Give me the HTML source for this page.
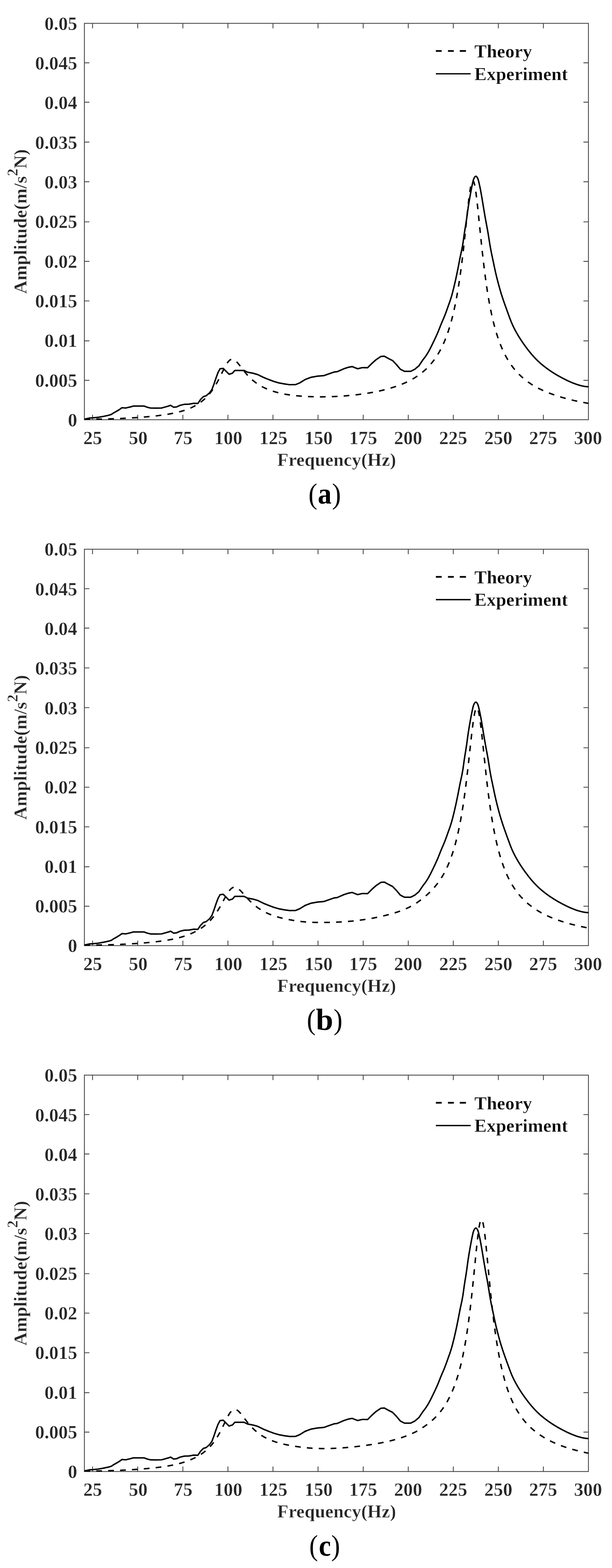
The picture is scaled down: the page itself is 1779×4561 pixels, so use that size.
<!DOCTYPE html>
<html lang="en">
<head>
<meta charset="utf-8">
<title>Frequency response: theory vs experiment</title>
<style>
html,body{margin:0;padding:0;background:#fff;}
svg{display:block;}
text{white-space:pre;}
</style>
</head>
<body>
<svg width="1779" height="4561" viewBox="0 0 1779 4561">
<defs><filter id="soft" x="0" y="0" width="100%" height="100%" filterUnits="userSpaceOnUse" color-interpolation-filters="sRGB"><feGaussianBlur stdDeviation="0.75"/></filter><clipPath id="clip"><rect x="244.1" y="66.7" width="1467.6" height="1155.4"/></clipPath></defs>
<rect width="1779" height="4561" fill="#fff"/>
<g filter="url(#soft)">
<rect x="-5" y="-5" width="1789" height="4571" fill="#fff"/>
<g transform="translate(0,0.0)">
<g fill="none" stroke="#424242" stroke-width="2.4">
<rect x="245.3" y="67.9" width="1465.2" height="1153.0"/>
<path d="M269.0,1220.9 v-14.5 M269.0,67.9 v14.5 M400.3,1220.9 v-14.5 M400.3,67.9 v14.5 M531.6,1220.9 v-14.5 M531.6,67.9 v14.5 M662.6,1220.9 v-14.5 M662.6,67.9 v14.5 M793.5,1220.9 v-14.5 M793.5,67.9 v14.5 M924.5,1220.9 v-14.5 M924.5,67.9 v14.5 M1055.8,1220.9 v-14.5 M1055.8,67.9 v14.5 M1186.8,1220.9 v-14.5 M1186.8,67.9 v14.5 M1317.7,1220.9 v-14.5 M1317.7,67.9 v14.5 M1448.6,1220.9 v-14.5 M1448.6,67.9 v14.5 M1579.6,1220.9 v-14.5 M1579.6,67.9 v14.5 M245.3,1106.3 h14.5 M1710.5,1106.3 h-14.5 M245.3,991.5 h14.5 M1710.5,991.5 h-14.5 M245.3,875.4 h14.5 M1710.5,875.4 h-14.5 M245.3,760.2 h14.5 M1710.5,760.2 h-14.5 M245.3,645.4 h14.5 M1710.5,645.4 h-14.5 M245.3,528.7 h14.5 M1710.5,528.7 h-14.5 M245.3,413.2 h14.5 M1710.5,413.2 h-14.5 M245.3,297.3 h14.5 M1710.5,297.3 h-14.5 M245.3,182.7 h14.5 M1710.5,182.7 h-14.5"/>
</g>
<g clip-path="url(#clip)" fill="none" stroke="#000" stroke-width="4.25" stroke-linejoin="round">
<path d="M245.3,1219.8 L247.4,1219.8 L249.5,1219.8 L251.6,1219.7 L253.7,1219.7 L255.8,1219.7 L257.9,1219.7 L260.0,1219.6 L262.1,1219.6 L264.2,1219.6 L266.3,1219.5 L268.4,1219.5 L270.5,1219.5 L272.5,1219.4 L274.6,1219.4 L276.7,1219.3 L278.8,1219.3 L280.9,1219.3 L283.0,1219.2 L285.1,1219.2 L287.2,1219.1 L289.3,1219.1 L291.4,1219.1 L293.5,1219.0 L295.6,1219.0 L297.7,1218.9 L299.8,1218.9 L301.9,1218.8 L304.0,1218.8 L306.1,1218.7 L308.2,1218.7 L310.3,1218.6 L312.4,1218.6 L314.5,1218.5 L316.6,1218.5 L318.7,1218.4 L320.8,1218.3 L322.9,1218.3 L325.0,1218.2 L327.0,1218.1 L329.1,1218.1 L331.2,1218.0 L333.3,1217.9 L335.4,1217.8 L337.5,1217.8 L339.6,1217.7 L341.7,1217.6 L343.8,1217.5 L345.9,1217.4 L348.0,1217.3 L350.1,1217.3 L352.2,1217.2 L354.3,1217.1 L356.4,1217.0 L358.5,1216.9 L360.6,1216.8 L362.7,1216.7 L364.8,1216.6 L366.9,1216.5 L369.0,1216.4 L371.1,1216.2 L373.2,1216.1 L375.3,1216.0 L377.4,1215.9 L379.5,1215.8 L381.5,1215.7 L383.6,1215.5 L385.7,1215.4 L387.8,1215.3 L389.9,1215.1 L392.0,1215.0 L394.1,1214.9 L396.2,1214.7 L398.3,1214.6 L400.4,1214.5 L402.5,1214.3 L404.6,1214.2 L406.7,1214.0 L408.8,1213.9 L410.9,1213.7 L413.0,1213.5 L415.1,1213.4 L417.2,1213.2 L419.3,1213.0 L421.4,1212.9 L423.5,1212.7 L425.6,1212.5 L427.7,1212.3 L429.8,1212.1 L431.9,1211.9 L434.0,1211.7 L436.0,1211.5 L438.1,1211.3 L440.2,1211.1 L442.3,1210.9 L444.4,1210.7 L446.5,1210.5 L448.6,1210.2 L450.7,1210.0 L452.8,1209.8 L454.9,1209.5 L457.0,1209.3 L459.1,1209.0 L461.2,1208.8 L463.3,1208.5 L465.4,1208.2 L467.5,1208.0 L469.6,1207.7 L471.7,1207.4 L473.8,1207.1 L475.9,1206.8 L478.0,1206.5 L480.1,1206.2 L482.2,1205.8 L484.3,1205.5 L486.4,1205.2 L488.5,1204.8 L490.5,1204.5 L492.6,1204.1 L494.7,1203.7 L496.8,1203.3 L498.9,1202.9 L501.0,1202.5 L503.1,1202.1 L505.2,1201.7 L507.3,1201.2 L509.4,1200.8 L511.5,1200.3 L513.6,1199.8 L515.7,1199.3 L517.8,1198.8 L519.9,1198.3 L522.0,1197.7 L524.1,1197.2 L526.2,1196.6 L528.3,1196.0 L530.4,1195.4 L532.5,1194.7 L534.6,1194.1 L536.7,1193.4 L538.8,1192.7 L540.9,1191.9 L543.0,1191.2 L545.0,1190.4 L547.1,1189.6 L549.2,1188.8 L551.3,1187.9 L553.4,1187.0 L555.5,1186.1 L557.6,1185.1 L559.7,1184.1 L561.8,1183.1 L563.9,1182.0 L566.0,1180.9 L568.1,1179.7 L570.2,1178.5 L572.3,1177.3 L574.4,1176.0 L576.5,1174.7 L578.6,1173.3 L580.7,1171.8 L582.8,1170.3 L584.9,1168.8 L587.0,1167.2 L589.1,1165.5 L591.2,1163.7 L593.3,1161.9 L595.4,1160.0 L597.5,1158.0 L599.5,1156.0 L601.6,1153.8 L603.7,1151.6 L605.8,1149.3 L607.9,1146.8 L610.0,1144.3 L612.1,1141.7 L614.2,1138.9 L616.3,1136.1 L618.4,1133.1 L620.5,1130.0 L622.6,1126.8 L624.7,1123.4 L626.8,1120.0 L628.9,1116.3 L631.0,1112.6 L633.1,1108.8 L635.2,1104.8 L637.3,1100.7 L639.4,1096.6 L641.5,1092.3 L643.6,1088.0 L645.7,1083.7 L647.8,1079.4 L649.9,1075.2 L652.0,1071.0 L654.0,1067.0 L656.1,1063.1 L658.2,1059.6 L660.3,1056.3 L662.4,1053.3 L664.5,1050.8 L666.6,1048.7 L668.7,1047.0 L670.8,1045.8 L672.9,1045.2 L675.0,1045.0 L677.1,1045.2 L679.2,1045.9 L681.3,1047.0 L683.4,1048.4 L685.5,1050.2 L687.6,1052.2 L689.7,1054.4 L691.8,1056.8 L693.9,1059.4 L696.0,1062.0 L698.1,1064.7 L700.2,1067.4 L702.3,1070.2 L704.4,1072.9 L706.5,1075.6 L708.5,1078.3 L710.6,1080.9 L712.7,1083.5 L714.8,1086.0 L716.9,1088.4 L719.0,1090.8 L721.1,1093.1 L723.2,1095.3 L725.3,1097.4 L727.4,1099.5 L729.5,1101.5 L731.6,1103.4 L733.7,1105.3 L735.8,1107.0 L737.9,1108.8 L740.0,1110.4 L742.1,1112.0 L744.2,1113.6 L746.3,1115.1 L748.4,1116.5 L750.5,1117.9 L752.6,1119.3 L754.7,1120.5 L756.8,1121.8 L758.9,1123.0 L760.9,1124.2 L763.0,1125.3 L765.1,1126.4 L767.2,1127.4 L769.3,1128.4 L771.4,1129.4 L773.5,1130.3 L775.6,1131.3 L777.7,1132.1 L779.8,1133.0 L781.9,1133.8 L784.0,1134.6 L786.1,1135.4 L788.2,1136.1 L790.3,1136.9 L792.4,1137.6 L794.5,1138.2 L796.6,1138.9 L798.7,1139.5 L800.8,1140.1 L802.9,1140.7 L805.0,1141.3 L807.1,1141.9 L809.2,1142.4 L811.3,1142.9 L813.4,1143.4 L815.4,1143.9 L817.5,1144.4 L819.6,1144.8 L821.7,1145.3 L823.8,1145.7 L825.9,1146.1 L828.0,1146.5 L830.1,1146.9 L832.2,1147.2 L834.3,1147.6 L836.4,1147.9 L838.5,1148.2 L840.6,1148.6 L842.7,1148.9 L844.8,1149.2 L846.9,1149.4 L849.0,1149.7 L851.1,1150.0 L853.2,1150.2 L855.3,1150.5 L857.4,1150.7 L859.5,1150.9 L861.6,1151.1 L863.7,1151.3 L865.8,1151.5 L867.9,1151.7 L869.9,1151.9 L872.0,1152.1 L874.1,1152.2 L876.2,1152.4 L878.3,1152.5 L880.4,1152.7 L882.5,1152.8 L884.6,1152.9 L886.7,1153.1 L888.8,1153.2 L890.9,1153.3 L893.0,1153.4 L895.1,1153.5 L897.2,1153.6 L899.3,1153.7 L901.4,1153.7 L903.5,1153.8 L905.6,1153.9 L907.7,1153.9 L909.8,1154.0 L911.9,1154.1 L914.0,1154.1 L916.1,1154.1 L918.2,1154.2 L920.3,1154.2 L922.4,1154.2 L924.4,1154.3 L926.5,1154.3 L928.6,1154.3 L930.7,1154.3 L932.8,1154.3 L934.9,1154.3 L937.0,1154.3 L939.1,1154.3 L941.2,1154.2 L943.3,1154.2 L945.4,1154.2 L947.5,1154.2 L949.6,1154.1 L951.7,1154.1 L953.8,1154.0 L955.9,1154.0 L958.0,1153.9 L960.1,1153.9 L962.2,1153.8 L964.3,1153.7 L966.4,1153.7 L968.5,1153.6 L970.6,1153.5 L972.7,1153.4 L974.8,1153.3 L976.9,1153.2 L978.9,1153.1 L981.0,1153.0 L983.1,1152.9 L985.2,1152.8 L987.3,1152.6 L989.4,1152.5 L991.5,1152.4 L993.6,1152.2 L995.7,1152.1 L997.8,1151.9 L999.9,1151.8 L1002.0,1151.6 L1004.1,1151.4 L1006.2,1151.3 L1008.3,1151.1 L1010.4,1150.9 L1012.5,1150.7 L1014.6,1150.5 L1016.7,1150.3 L1018.8,1150.1 L1020.9,1149.9 L1023.0,1149.7 L1025.1,1149.5 L1027.2,1149.2 L1029.3,1149.0 L1031.4,1148.8 L1033.4,1148.5 L1035.5,1148.3 L1037.6,1148.1 L1039.7,1147.8 L1041.8,1147.5 L1043.9,1147.3 L1046.0,1147.0 L1048.1,1146.7 L1050.2,1146.5 L1052.3,1146.2 L1054.4,1145.9 L1056.5,1145.6 L1058.6,1145.3 L1060.7,1145.0 L1062.8,1144.7 L1064.9,1144.4 L1067.0,1144.0 L1069.1,1143.7 L1071.2,1143.4 L1073.3,1143.0 L1075.4,1142.7 L1077.5,1142.3 L1079.6,1141.9 L1081.7,1141.6 L1083.8,1141.2 L1085.9,1140.8 L1087.9,1140.4 L1090.0,1140.0 L1092.1,1139.6 L1094.2,1139.1 L1096.3,1138.7 L1098.4,1138.3 L1100.5,1137.8 L1102.6,1137.4 L1104.7,1136.9 L1106.8,1136.4 L1108.9,1135.9 L1111.0,1135.4 L1113.1,1134.9 L1115.2,1134.4 L1117.3,1133.9 L1119.4,1133.3 L1121.5,1132.8 L1123.6,1132.2 L1125.7,1131.7 L1127.8,1131.1 L1129.9,1130.5 L1132.0,1129.9 L1134.1,1129.3 L1136.2,1128.7 L1138.3,1128.1 L1140.4,1127.4 L1142.4,1126.8 L1144.5,1126.1 L1146.6,1125.4 L1148.7,1124.7 L1150.8,1124.0 L1152.9,1123.3 L1155.0,1122.5 L1157.1,1121.8 L1159.2,1121.0 L1161.3,1120.2 L1163.4,1119.4 L1165.5,1118.6 L1167.6,1117.8 L1169.7,1116.9 L1171.8,1116.1 L1173.9,1115.2 L1176.0,1114.3 L1178.1,1113.3 L1180.2,1112.4 L1182.3,1111.4 L1184.4,1110.4 L1186.5,1109.4 L1188.6,1108.3 L1190.7,1107.3 L1192.8,1106.2 L1194.9,1105.1 L1196.9,1103.9 L1199.0,1102.7 L1201.1,1101.5 L1203.2,1100.3 L1205.3,1099.0 L1207.4,1097.7 L1209.5,1096.3 L1211.6,1095.0 L1213.7,1093.5 L1215.8,1092.1 L1217.9,1090.6 L1220.0,1089.1 L1222.1,1087.5 L1224.2,1085.9 L1226.3,1084.2 L1228.4,1082.5 L1230.5,1080.7 L1232.6,1078.9 L1234.7,1077.1 L1236.8,1075.2 L1238.9,1073.2 L1241.0,1071.1 L1243.1,1069.0 L1245.2,1066.9 L1247.3,1064.7 L1249.3,1062.4 L1251.4,1060.0 L1253.5,1057.5 L1255.6,1055.0 L1257.7,1052.4 L1259.8,1049.7 L1261.9,1046.9 L1264.0,1044.0 L1266.1,1041.0 L1268.2,1037.9 L1270.3,1034.7 L1272.4,1031.3 L1274.5,1027.9 L1276.6,1024.3 L1278.7,1020.5 L1280.8,1016.7 L1282.9,1012.6 L1285.0,1008.4 L1287.1,1004.0 L1289.2,999.5 L1291.3,994.7 L1293.4,989.7 L1295.5,984.5 L1297.6,979.1 L1299.7,973.4 L1301.8,967.5 L1303.8,961.2 L1305.9,954.7 L1308.0,947.8 L1310.1,940.6 L1312.2,933.0 L1314.3,925.1 L1316.4,916.7 L1318.5,907.8 L1320.6,898.5 L1322.7,888.6 L1324.8,878.3 L1326.9,867.3 L1329.0,855.7 L1331.1,843.4 L1333.2,830.5 L1335.3,816.8 L1337.4,802.4 L1339.5,787.2 L1341.6,771.2 L1343.7,754.4 L1345.8,736.8 L1347.9,718.4 L1350.0,699.4 L1352.1,679.9 L1354.2,659.9 L1356.3,639.9 L1358.3,620.0 L1360.4,600.7 L1362.5,582.4 L1364.6,565.7 L1366.7,551.2 L1368.8,539.5 L1370.9,531.0 L1373.0,526.3 L1375.1,525.5 L1377.2,528.8 L1379.3,536.0 L1381.4,546.8 L1383.5,560.6 L1385.6,576.9 L1387.7,595.2 L1389.8,614.8 L1391.9,635.2 L1394.0,655.9 L1396.1,676.7 L1398.2,697.1 L1400.3,717.1 L1402.4,736.4 L1404.5,755.0 L1406.6,772.7 L1408.7,789.7 L1410.8,805.7 L1412.8,821.0 L1414.9,835.4 L1417.0,849.1 L1419.1,862.0 L1421.2,874.3 L1423.3,885.8 L1425.4,896.8 L1427.5,907.1 L1429.6,916.9 L1431.7,926.2 L1433.8,935.0 L1435.9,943.4 L1438.0,951.3 L1440.1,958.9 L1442.2,966.0 L1444.3,972.9 L1446.4,979.4 L1448.5,985.6 L1450.6,991.5 L1452.7,997.2 L1454.8,1002.6 L1456.9,1007.7 L1459.0,1012.7 L1461.1,1017.4 L1463.2,1022.0 L1465.3,1026.4 L1467.3,1030.6 L1469.4,1034.6 L1471.5,1038.5 L1473.6,1042.2 L1475.7,1045.8 L1477.8,1049.3 L1479.9,1052.6 L1482.0,1055.8 L1484.1,1058.9 L1486.2,1061.9 L1488.3,1064.8 L1490.4,1067.6 L1492.5,1070.4 L1494.6,1073.0 L1496.7,1075.5 L1498.8,1078.0 L1500.9,1080.4 L1503.0,1082.7 L1505.1,1085.0 L1507.2,1087.2 L1509.3,1089.3 L1511.4,1091.3 L1513.5,1093.3 L1515.6,1095.3 L1517.7,1097.2 L1519.8,1099.0 L1521.8,1100.8 L1523.9,1102.6 L1526.0,1104.3 L1528.1,1105.9 L1530.2,1107.6 L1532.3,1109.1 L1534.4,1110.7 L1536.5,1112.2 L1538.6,1113.6 L1540.7,1115.1 L1542.8,1116.5 L1544.9,1117.8 L1547.0,1119.2 L1549.1,1120.4 L1551.2,1121.7 L1553.3,1123.0 L1555.4,1124.2 L1557.5,1125.3 L1559.6,1126.5 L1561.7,1127.6 L1563.8,1128.7 L1565.9,1129.8 L1568.0,1130.9 L1570.1,1131.9 L1572.2,1132.9 L1574.3,1133.9 L1576.3,1134.9 L1578.4,1135.9 L1580.5,1136.8 L1582.6,1137.7 L1584.7,1138.6 L1586.8,1139.5 L1588.9,1140.4 L1591.0,1141.2 L1593.1,1142.1 L1595.2,1142.9 L1597.3,1143.7 L1599.4,1144.5 L1601.5,1145.3 L1603.6,1146.0 L1605.7,1146.8 L1607.8,1147.6 L1609.9,1148.3 L1612.0,1149.0 L1614.1,1149.7 L1616.2,1150.4 L1618.3,1151.1 L1620.4,1151.8 L1622.5,1152.5 L1624.6,1153.1 L1626.7,1153.8 L1628.8,1154.4 L1630.8,1155.1 L1632.9,1155.7 L1635.0,1156.3 L1637.1,1156.9 L1639.2,1157.5 L1641.3,1158.1 L1643.4,1158.7 L1645.5,1159.3 L1647.6,1159.8 L1649.7,1160.4 L1651.8,1160.9 L1653.9,1161.5 L1656.0,1162.0 L1658.1,1162.5 L1660.2,1163.0 L1662.3,1163.5 L1664.4,1164.0 L1666.5,1164.5 L1668.6,1165.0 L1670.7,1165.5 L1672.8,1165.9 L1674.9,1166.4 L1677.0,1166.8 L1679.1,1167.3 L1681.2,1167.7 L1683.3,1168.2 L1685.3,1168.6 L1687.4,1169.0 L1689.5,1169.4 L1691.6,1169.8 L1693.7,1170.2 L1695.8,1170.6 L1697.9,1171.0 L1700.0,1171.4 L1702.1,1171.8 L1704.2,1172.1 L1706.3,1172.5 L1708.4,1172.9 L1710.5,1173.2" stroke-dasharray="16.6 18"/>
<path d="M245.3,1219.4 L259.9,1216.0 L269.9,1215.4 L285.8,1213.8 L301.7,1211.0 L315.6,1208.0 L323.6,1205.5 L329.6,1201.5 L339.5,1195.9 L347.5,1191.1 L354.4,1186.0 L365.4,1186.8 L379.3,1183.6 L387.3,1181.2 L403.2,1181.2 L419.1,1181.2 L428.0,1184.6 L437.9,1187.0 L453.8,1187.2 L469.8,1186.8 L479.7,1184.0 L489.7,1181.2 L495.6,1179.0 L499.6,1181.2 L504.6,1184.6 L513.5,1183.6 L523.5,1179.0 L535.4,1176.2 L549.4,1175.6 L563.3,1173.2 L575.2,1173.6 L583.2,1161.7 L591.1,1153.7 L599.1,1151.3 L609.1,1142.8 L615.9,1133.3 L621.9,1117.4 L627.9,1099.5 L633.8,1083.6 L639.8,1072.6 L648.8,1071.6 L657.7,1080.6 L665.7,1088.6 L675.6,1085.6 L682.6,1077.6 L695.5,1077.6 L709.5,1077.6 L719.4,1082.6 L735.3,1085.6 L749.3,1089.6 L765.2,1097.5 L780.0,1103.6 L795.9,1109.5 L809.9,1113.6 L825.8,1116.6 L841.7,1119.0 L859.6,1118.6 L871.5,1113.6 L887.5,1103.7 L903.4,1097.7 L923.3,1094.1 L941.2,1092.7 L955.1,1087.8 L971.0,1082.2 L980.0,1081.2 L999.8,1072.6 L1013.7,1068.1 L1023.7,1066.3 L1029.7,1068.7 L1039.6,1072.6 L1053.5,1069.3 L1068.5,1069.7 L1079.4,1058.7 L1093.3,1046.2 L1107.3,1036.8 L1117.2,1036.2 L1129.2,1042.8 L1141.1,1048.8 L1151.5,1059.5 L1163.9,1074.1 L1175.8,1080.1 L1193.7,1080.1 L1205.7,1074.1 L1217.6,1064.2 L1229.3,1046.7 L1230.6,1045.1 L1231.8,1043.5 L1233.1,1042.0 L1234.3,1040.4 L1235.5,1038.8 L1236.6,1037.2 L1237.7,1035.5 L1238.9,1033.9 L1240.0,1032.2 L1241.0,1030.5 L1242.1,1028.8 L1243.2,1027.1 L1244.2,1025.4 L1245.2,1023.7 L1246.2,1022.0 L1247.1,1020.2 L1248.1,1018.5 L1249.0,1016.7 L1250.0,1015.0 L1250.9,1013.2 L1251.8,1011.4 L1252.7,1009.6 L1253.6,1007.8 L1254.5,1006.0 L1255.4,1004.2 L1256.2,1002.4 L1257.1,1000.6 L1258.0,998.8 L1258.9,997.0 L1259.7,995.2 L1260.6,993.4 L1261.5,991.6 L1262.3,989.8 L1263.2,988.0 L1264.0,986.2 L1264.9,984.4 L1265.7,982.6 L1266.6,980.8 L1267.4,979.0 L1268.2,977.1 L1269.1,975.3 L1269.9,973.5 L1270.7,971.7 L1271.5,969.8 L1272.3,968.0 L1273.1,966.2 L1273.8,964.3 L1274.6,962.5 L1275.3,960.6 L1276.0,958.7 L1276.8,956.9 L1277.5,955.0 L1278.2,953.2 L1279.0,951.3 L1279.7,949.4 L1280.4,947.6 L1281.2,945.7 L1281.9,943.9 L1282.7,942.0 L1283.5,940.2 L1284.2,938.4 L1285.0,936.5 L1285.8,934.7 L1286.6,932.9 L1287.4,931.0 L1288.2,929.2 L1289.0,927.4 L1289.8,925.5 L1290.5,923.7 L1291.3,921.9 L1292.0,920.0 L1292.8,918.1 L1293.5,916.3 L1294.2,914.4 L1294.9,912.6 L1295.6,910.7 L1296.3,908.8 L1297.0,906.9 L1297.7,905.0 L1298.4,903.2 L1299.0,901.3 L1299.7,899.4 L1300.4,897.5 L1301.0,895.6 L1301.7,893.7 L1302.4,891.9 L1303.0,890.0 L1303.7,888.1 L1304.4,886.2 L1305.1,884.3 L1305.7,882.4 L1306.4,880.6 L1307.1,878.7 L1307.7,876.8 L1308.4,874.9 L1309.0,873.0 L1309.6,871.1 L1310.2,869.2 L1310.9,867.3 L1311.4,865.4 L1312.0,863.5 L1312.6,861.6 L1313.1,859.6 L1313.7,857.7 L1314.2,855.8 L1314.7,853.9 L1315.2,851.9 L1315.8,850.0 L1316.2,848.1 L1316.7,846.1 L1317.2,844.2 L1317.7,842.2 L1318.2,840.3 L1318.7,838.4 L1319.1,836.4 L1319.6,834.5 L1320.1,832.5 L1320.5,830.6 L1321.0,828.6 L1321.4,826.7 L1321.9,824.7 L1322.3,822.8 L1322.8,820.8 L1323.2,818.9 L1323.7,816.9 L1324.1,815.0 L1324.6,813.0 L1325.0,811.1 L1325.4,809.1 L1325.8,807.2 L1326.2,805.2 L1326.7,803.3 L1327.1,801.3 L1327.5,799.3 L1327.9,797.4 L1328.3,795.4 L1328.7,793.5 L1329.1,791.5 L1329.5,789.6 L1329.9,787.6 L1330.3,785.6 L1330.7,783.7 L1331.1,781.7 L1331.5,779.8 L1331.9,777.8 L1332.3,775.8 L1332.6,773.9 L1333.0,771.9 L1333.4,769.9 L1333.8,768.0 L1334.1,766.0 L1334.5,764.0 L1334.9,762.1 L1335.3,760.1 L1335.6,758.2 L1336.0,756.2 L1336.4,754.2 L1336.8,752.3 L1337.2,750.3 L1337.6,748.3 L1338.0,746.4 L1338.4,744.4 L1338.8,742.5 L1339.2,740.5 L1339.7,738.6 L1340.1,736.6 L1340.5,734.7 L1340.9,732.7 L1341.3,730.7 L1341.8,728.8 L1342.2,726.8 L1342.6,724.9 L1343.0,722.9 L1343.4,721.0 L1343.7,719.0 L1344.1,717.0 L1344.5,715.1 L1344.8,713.1 L1345.1,711.1 L1345.5,709.2 L1345.8,707.2 L1346.1,705.2 L1346.4,703.2 L1346.6,701.3 L1346.9,699.3 L1347.2,697.3 L1347.5,695.3 L1347.7,693.3 L1348.0,691.3 L1348.3,689.4 L1348.6,687.4 L1348.8,685.4 L1349.1,683.4 L1349.4,681.4 L1349.7,679.5 L1350.0,677.5 L1350.3,675.5 L1350.6,673.5 L1350.9,671.6 L1351.2,669.6 L1351.5,667.6 L1351.8,665.6 L1352.2,663.7 L1352.5,661.7 L1352.8,659.7 L1353.1,657.7 L1353.5,655.8 L1353.8,653.8 L1354.1,651.8 L1354.4,649.8 L1354.7,647.9 L1355.0,645.9 L1355.3,643.9 L1355.6,641.9 L1355.9,639.9 L1356.2,638.0 L1356.5,636.0 L1356.8,634.0 L1357.0,632.0 L1357.3,630.0 L1357.6,628.1 L1357.8,626.1 L1358.1,624.1 L1358.4,622.1 L1358.6,620.1 L1358.9,618.2 L1359.2,616.2 L1359.4,614.2 L1359.7,612.2 L1360.0,610.2 L1360.3,608.3 L1360.6,606.3 L1360.8,604.3 L1361.1,602.3 L1361.4,600.3 L1361.7,598.4 L1362.1,596.4 L1362.4,594.4 L1362.7,592.4 L1363.0,590.5 L1363.3,588.5 L1363.7,586.5 L1364.0,584.5 L1364.3,582.6 L1364.7,580.6 L1365.0,578.6 L1365.3,576.7 L1365.7,574.7 L1366.0,572.7 L1366.4,570.7 L1366.7,568.8 L1367.1,566.8 L1367.4,564.8 L1367.8,562.9 L1368.2,560.9 L1368.5,558.9 L1368.9,556.9 L1369.2,555.0 L1369.6,553.0 L1370.0,551.0 L1370.4,549.1 L1370.8,547.1 L1371.1,545.1 L1371.5,543.1 L1371.9,541.2 L1372.3,539.2 L1372.8,537.2 L1373.2,535.3 L1373.6,533.3 L1374.0,531.4 L1374.5,529.5 L1374.9,527.6 L1375.4,525.7 L1375.9,523.8 L1376.5,522.0 L1377.2,520.2 L1378.0,518.2 L1379.1,516.2 L1380.5,514.3 L1381.9,513.0 L1383.3,512.6 L1384.7,513.2 L1386.1,514.7 L1387.4,516.6 L1388.5,518.6 L1389.3,520.5 L1389.9,522.4 L1390.5,524.2 L1391.0,526.1 L1391.5,528.0 L1392.0,529.9 L1392.4,531.9 L1392.8,533.8 L1393.3,535.8 L1393.7,537.7 L1394.1,539.7 L1394.6,541.6 L1395.0,543.6 L1395.4,545.5 L1395.8,547.5 L1396.2,549.4 L1396.6,551.4 L1396.9,553.4 L1397.3,555.3 L1397.7,557.3 L1398.0,559.3 L1398.4,561.3 L1398.7,563.2 L1399.1,565.2 L1399.4,567.2 L1399.8,569.1 L1400.1,571.1 L1400.5,573.1 L1400.8,575.1 L1401.1,577.0 L1401.5,579.0 L1401.8,581.0 L1402.1,582.9 L1402.4,584.9 L1402.8,586.9 L1403.1,588.9 L1403.4,590.8 L1403.7,592.8 L1404.0,594.8 L1404.4,596.8 L1404.7,598.7 L1405.0,600.7 L1405.3,602.7 L1405.7,604.7 L1406.0,606.6 L1406.3,608.6 L1406.7,610.6 L1407.0,612.5 L1407.3,614.5 L1407.7,616.5 L1408.0,618.5 L1408.3,620.4 L1408.7,622.4 L1409.0,624.4 L1409.3,626.3 L1409.7,628.3 L1410.0,630.3 L1410.4,632.3 L1410.7,634.2 L1411.1,636.2 L1411.4,638.2 L1411.8,640.1 L1412.1,642.1 L1412.5,644.1 L1412.9,646.0 L1413.2,648.0 L1413.6,650.0 L1414.0,651.9 L1414.3,653.9 L1414.7,655.9 L1415.1,657.8 L1415.4,659.8 L1415.8,661.8 L1416.2,663.7 L1416.5,665.7 L1416.9,667.7 L1417.3,669.6 L1417.6,671.6 L1417.9,673.6 L1418.3,675.5 L1418.6,677.5 L1419.0,679.5 L1419.3,681.5 L1419.6,683.4 L1419.9,685.4 L1420.2,687.4 L1420.5,689.4 L1420.8,691.3 L1421.2,693.3 L1421.5,695.3 L1421.8,697.3 L1422.1,699.2 L1422.4,701.2 L1422.7,703.2 L1423.0,705.2 L1423.3,707.1 L1423.6,709.1 L1424.0,711.1 L1424.3,713.1 L1424.6,715.0 L1425.0,717.0 L1425.3,719.0 L1425.7,720.9 L1426.1,722.9 L1426.4,724.9 L1426.8,726.8 L1427.2,728.8 L1427.6,730.8 L1427.9,732.7 L1428.3,734.7 L1428.7,736.6 L1429.1,738.6 L1429.5,740.6 L1429.9,742.5 L1430.4,744.5 L1430.8,746.4 L1431.2,748.4 L1431.6,750.3 L1432.0,752.3 L1432.4,754.3 L1432.8,756.2 L1433.2,758.2 L1433.6,760.1 L1434.1,762.1 L1434.5,764.0 L1434.9,766.0 L1435.3,768.0 L1435.7,769.9 L1436.1,771.9 L1436.5,773.8 L1436.9,775.8 L1437.3,777.7 L1437.8,779.7 L1438.2,781.7 L1438.6,783.6 L1439.0,785.6 L1439.5,787.5 L1439.9,789.5 L1440.3,791.4 L1440.8,793.4 L1441.2,795.3 L1441.7,797.3 L1442.2,799.2 L1442.6,801.2 L1443.1,803.1 L1443.6,805.0 L1444.0,807.0 L1444.5,808.9 L1445.0,810.9 L1445.5,812.8 L1446.0,814.7 L1446.5,816.7 L1447.0,818.6 L1447.5,820.6 L1448.0,822.5 L1448.5,824.4 L1449.0,826.4 L1449.5,828.3 L1450.0,830.2 L1450.6,832.1 L1451.1,834.1 L1451.6,836.0 L1452.2,837.9 L1452.7,839.8 L1453.3,841.8 L1453.8,843.7 L1454.4,845.6 L1455.0,847.5 L1455.5,849.4 L1456.1,851.4 L1456.7,853.3 L1457.3,855.2 L1457.9,857.1 L1458.5,859.0 L1459.1,860.9 L1459.7,862.8 L1460.3,864.7 L1460.9,866.6 L1461.6,868.5 L1462.2,870.4 L1462.8,872.3 L1463.5,874.2 L1464.1,876.1 L1464.8,878.0 L1465.4,879.9 L1466.1,881.8 L1466.8,883.6 L1467.4,885.5 L1468.1,887.4 L1468.8,889.3 L1469.5,891.2 L1470.1,893.1 L1470.8,894.9 L1471.5,896.8 L1472.2,898.7 L1472.8,900.6 L1473.5,902.5 L1474.2,904.3 L1474.9,906.2 L1475.6,908.1 L1476.3,910.0 L1476.9,911.9 L1477.6,913.7 L1478.3,915.6 L1479.0,917.5 L1479.7,919.4 L1480.4,921.3 L1481.1,923.1 L1481.7,925.0 L1482.4,926.9 L1483.2,928.8 L1483.9,930.6 L1484.6,932.5 L1485.3,934.3 L1486.1,936.2 L1486.8,938.0 L1487.6,939.9 L1488.4,941.7 L1489.2,943.5 L1490.0,945.4 L1490.9,947.2 L1491.7,949.0 L1492.6,950.8 L1493.4,952.6 L1494.3,954.4 L1495.2,956.1 L1496.2,957.9 L1497.1,959.7 L1498.0,961.5 L1499.0,963.2 L1499.9,965.0 L1500.9,966.7 L1501.9,968.5 L1502.9,970.2 L1503.9,971.9 L1504.9,973.7 L1505.9,975.4 L1506.9,977.1 L1508.0,978.8 L1509.0,980.5 L1510.1,982.2 L1511.2,983.9 L1512.2,985.6 L1513.3,987.3 L1514.4,988.9 L1515.5,990.6 L1516.6,992.3 L1517.7,993.9 L1518.8,995.6 L1520.0,997.2 L1521.1,998.9 L1522.3,1000.5 L1523.4,1002.2 L1524.6,1003.8 L1525.7,1005.4 L1526.9,1007.0 L1528.1,1008.6 L1529.3,1010.2 L1530.5,1011.8 L1531.7,1013.4 L1532.9,1015.0 L1534.1,1016.6 L1535.3,1018.2 L1536.6,1019.8 L1537.8,1021.3 L1539.1,1022.9 L1540.3,1024.5 L1541.6,1026.0 L1542.9,1027.6 L1544.1,1029.1 L1545.4,1030.6 L1546.7,1032.1 L1548.1,1033.6 L1549.4,1035.1 L1550.7,1036.6 L1552.1,1038.1 L1553.4,1039.6 L1554.8,1041.0 L1556.1,1042.5 L1557.5,1043.9 L1558.9,1045.3 L1560.3,1046.8 L1561.8,1048.2 L1563.2,1049.6 L1564.6,1050.9 L1566.1,1052.3 L1567.6,1053.7 L1569.0,1055.0 L1570.5,1056.3 L1572.0,1057.6 L1573.6,1058.9 L1575.1,1060.2 L1576.6,1061.5 L1578.2,1062.8 L1579.7,1064.0 L1581.3,1065.3 L1582.9,1066.5 L1584.4,1067.7 L1586.0,1068.9 L1587.6,1070.1 L1589.2,1071.3 L1590.9,1072.5 L1592.5,1073.7 L1594.1,1074.8 L1595.7,1076.0 L1597.4,1077.1 L1599.0,1078.3 L1600.7,1079.4 L1602.3,1080.5 L1604.0,1081.6 L1605.7,1082.7 L1607.4,1083.8 L1609.0,1084.9 L1610.7,1085.9 L1612.4,1087.0 L1614.1,1088.0 L1615.8,1089.0 L1617.6,1090.1 L1619.3,1091.1 L1621.0,1092.1 L1622.8,1093.1 L1624.5,1094.1 L1626.2,1095.0 L1628.0,1096.0 L1629.8,1096.9 L1631.5,1097.9 L1633.3,1098.8 L1635.0,1099.8 L1636.8,1100.7 L1638.6,1101.6 L1640.4,1102.5 L1642.2,1103.4 L1643.9,1104.3 L1645.7,1105.2 L1647.5,1106.1 L1649.3,1107.0 L1651.1,1107.8 L1653.0,1108.7 L1654.8,1109.5 L1656.6,1110.3 L1658.4,1111.1 L1660.3,1111.9 L1662.1,1112.7 L1664.0,1113.4 L1665.8,1114.2 L1667.7,1114.9 L1669.5,1115.6 L1671.4,1116.3 L1673.3,1117.0 L1675.2,1117.7 L1677.0,1118.3 L1678.9,1118.9 L1680.8,1119.5 L1682.7,1120.1 L1684.5,1120.6 L1686.4,1121.1 L1688.2,1121.6 L1690.1,1122.1 L1691.8,1122.5 L1693.6,1122.8 L1695.2,1123.2 L1696.8,1123.5 L1698.4,1123.8 L1699.8,1124.0 L1701.1,1124.2 L1702.4,1124.4 L1703.5,1124.5 L1710.8,1125.1"/>
</g>
<g font-family='"Liberation Serif", "DejaVu Serif", serif' font-weight="bold" font-size="54.5" fill="#262626" stroke="#fff" stroke-width="0.7" stroke-linejoin="round">
<g text-anchor="end">
<text x="224.6" y="1239.8">0</text>
<text x="224.6" y="1124.5">0.005</text>
<text x="224.6" y="1009.2">0.01</text>
<text x="224.6" y="893.9">0.015</text>
<text x="224.6" y="778.6">0.02</text>
<text x="224.6" y="663.3">0.025</text>
<text x="224.6" y="548.0">0.03</text>
<text x="224.6" y="432.7">0.035</text>
<text x="224.6" y="317.4">0.04</text>
<text x="224.6" y="202.1">0.045</text>
<text x="224.6" y="86.8">0.05</text>
</g><g text-anchor="middle">
<text x="269.6" y="1292.0">25</text>
<text x="401.7" y="1292.0">50</text>
<text x="532.2" y="1292.0">75</text>
<text x="663.5" y="1292.0">100</text>
<text x="794.6" y="1292.0">125</text>
<text x="926.1" y="1292.0">150</text>
<text x="1055.6" y="1292.0">175</text>
<text x="1186.3" y="1292.0">200</text>
<text x="1317.3" y="1292.0">225</text>
<text x="1448.5" y="1292.0">250</text>
<text x="1578.9" y="1292.0">275</text>
<text x="1709.3" y="1292.0">300</text>
</g>
<g font-size="53.5">
<text x="978.6" y="1355" text-anchor="middle" textLength="345.5" lengthAdjust="spacing">Frequency(Hz)</text>
<text transform="translate(76.9,644.3) rotate(-90)" text-anchor="middle" textLength="421" lengthAdjust="spacing">Amplitude(m/s<tspan font-size="44" dy="-26">2</tspan><tspan dy="26">N)</tspan></text>
</g>
<g text-anchor="start" fill="#000" font-size="53.5">
<text x="1379" y="167.3" textLength="167.5" lengthAdjust="spacing">Theory</text>
<text x="1379" y="232.8" textLength="271.5" lengthAdjust="spacing">Experiment</text>
</g>
</g>
<g fill="none" stroke="#000">
<path stroke-width="4.9" d="M1267,148.3 h16.9 M1302.2,148.3 h17 M1336.5,148.3 h18"/>
<path stroke-width="3.9" d="M1267,214.6 h101.2"/>
</g>
<g font-family='"Liberation Serif", "DejaVu Serif", serif' fill="#000" font-size="100"><text transform="translate(896.78,1465.42) scale(0.7665,0.8512)">(</text><text transform="translate(923.68,1464.99) scale(0.8035,0.8622)" font-weight="bold">a</text><text transform="translate(965.37,1465.42) scale(0.7743,0.8512)">)</text></g>
</g>
<g transform="translate(0,1529.7)">
<g fill="none" stroke="#424242" stroke-width="2.4">
<rect x="245.3" y="67.9" width="1465.2" height="1153.0"/>
<path d="M269.0,1220.9 v-14.5 M269.0,67.9 v14.5 M400.3,1220.9 v-14.5 M400.3,67.9 v14.5 M531.6,1220.9 v-14.5 M531.6,67.9 v14.5 M662.6,1220.9 v-14.5 M662.6,67.9 v14.5 M793.5,1220.9 v-14.5 M793.5,67.9 v14.5 M924.5,1220.9 v-14.5 M924.5,67.9 v14.5 M1055.8,1220.9 v-14.5 M1055.8,67.9 v14.5 M1186.8,1220.9 v-14.5 M1186.8,67.9 v14.5 M1317.7,1220.9 v-14.5 M1317.7,67.9 v14.5 M1448.6,1220.9 v-14.5 M1448.6,67.9 v14.5 M1579.6,1220.9 v-14.5 M1579.6,67.9 v14.5 M245.3,1106.3 h14.5 M1710.5,1106.3 h-14.5 M245.3,991.5 h14.5 M1710.5,991.5 h-14.5 M245.3,875.4 h14.5 M1710.5,875.4 h-14.5 M245.3,760.2 h14.5 M1710.5,760.2 h-14.5 M245.3,645.4 h14.5 M1710.5,645.4 h-14.5 M245.3,528.7 h14.5 M1710.5,528.7 h-14.5 M245.3,413.2 h14.5 M1710.5,413.2 h-14.5 M245.3,297.3 h14.5 M1710.5,297.3 h-14.5 M245.3,182.7 h14.5 M1710.5,182.7 h-14.5"/>
</g>
<g clip-path="url(#clip)" fill="none" stroke="#000" stroke-width="4.25" stroke-linejoin="round">
<path d="M245.3,1219.8 L247.4,1219.8 L249.5,1219.8 L251.6,1219.7 L253.7,1219.7 L255.8,1219.7 L257.9,1219.7 L260.0,1219.6 L262.1,1219.6 L264.2,1219.6 L266.3,1219.5 L268.4,1219.5 L270.5,1219.5 L272.5,1219.4 L274.6,1219.4 L276.7,1219.3 L278.8,1219.3 L280.9,1219.3 L283.0,1219.2 L285.1,1219.2 L287.2,1219.1 L289.3,1219.1 L291.4,1219.1 L293.5,1219.0 L295.6,1219.0 L297.7,1218.9 L299.8,1218.9 L301.9,1218.8 L304.0,1218.8 L306.1,1218.7 L308.2,1218.7 L310.3,1218.6 L312.4,1218.6 L314.5,1218.5 L316.6,1218.5 L318.7,1218.4 L320.8,1218.3 L322.9,1218.3 L325.0,1218.2 L327.0,1218.1 L329.1,1218.1 L331.2,1218.0 L333.3,1217.9 L335.4,1217.8 L337.5,1217.8 L339.6,1217.7 L341.7,1217.6 L343.8,1217.5 L345.9,1217.4 L348.0,1217.3 L350.1,1217.3 L352.2,1217.2 L354.3,1217.1 L356.4,1217.0 L358.5,1216.9 L360.6,1216.8 L362.7,1216.7 L364.8,1216.6 L366.9,1216.5 L369.0,1216.3 L371.1,1216.2 L373.2,1216.1 L375.3,1216.0 L377.4,1215.9 L379.5,1215.8 L381.5,1215.6 L383.6,1215.5 L385.7,1215.4 L387.8,1215.3 L389.9,1215.1 L392.0,1215.0 L394.1,1214.9 L396.2,1214.7 L398.3,1214.6 L400.4,1214.4 L402.5,1214.3 L404.6,1214.2 L406.7,1214.0 L408.8,1213.8 L410.9,1213.7 L413.0,1213.5 L415.1,1213.4 L417.2,1213.2 L419.3,1213.0 L421.4,1212.8 L423.5,1212.7 L425.6,1212.5 L427.7,1212.3 L429.8,1212.1 L431.9,1211.9 L434.0,1211.7 L436.0,1211.5 L438.1,1211.3 L440.2,1211.1 L442.3,1210.9 L444.4,1210.7 L446.5,1210.4 L448.6,1210.2 L450.7,1210.0 L452.8,1209.7 L454.9,1209.5 L457.0,1209.2 L459.1,1209.0 L461.2,1208.7 L463.3,1208.5 L465.4,1208.2 L467.5,1207.9 L469.6,1207.6 L471.7,1207.3 L473.8,1207.0 L475.9,1206.7 L478.0,1206.4 L480.1,1206.1 L482.2,1205.7 L484.3,1205.4 L486.4,1205.1 L488.5,1204.7 L490.5,1204.3 L492.6,1204.0 L494.7,1203.6 L496.8,1203.2 L498.9,1202.8 L501.0,1202.4 L503.1,1201.9 L505.2,1201.5 L507.3,1201.1 L509.4,1200.6 L511.5,1200.1 L513.6,1199.6 L515.7,1199.1 L517.8,1198.6 L519.9,1198.1 L522.0,1197.5 L524.1,1196.9 L526.2,1196.3 L528.3,1195.7 L530.4,1195.1 L532.5,1194.5 L534.6,1193.8 L536.7,1193.1 L538.8,1192.4 L540.9,1191.7 L543.0,1191.0 L545.0,1190.2 L547.1,1189.4 L549.2,1188.6 L551.3,1187.7 L553.4,1186.9 L555.5,1186.0 L557.6,1185.1 L559.7,1184.1 L561.8,1183.1 L563.9,1182.1 L566.0,1181.1 L568.1,1180.0 L570.2,1178.9 L572.3,1177.8 L574.4,1176.6 L576.5,1175.4 L578.6,1174.1 L580.7,1172.8 L582.8,1171.5 L584.9,1170.1 L587.0,1168.7 L589.1,1167.2 L591.2,1165.7 L593.3,1164.1 L595.4,1162.5 L597.5,1160.7 L599.5,1159.0 L601.6,1157.1 L603.7,1155.2 L605.8,1153.2 L607.9,1151.2 L610.0,1149.0 L612.1,1146.8 L614.2,1144.5 L616.3,1142.0 L618.4,1139.5 L620.5,1136.9 L622.6,1134.2 L624.7,1131.3 L626.8,1128.4 L628.9,1125.3 L631.0,1122.1 L633.1,1118.8 L635.2,1115.4 L637.3,1111.9 L639.4,1108.4 L641.5,1104.7 L643.6,1100.9 L645.7,1097.1 L647.8,1093.2 L649.9,1089.3 L652.0,1085.4 L654.0,1081.6 L656.1,1077.8 L658.2,1074.1 L660.3,1070.6 L662.4,1067.2 L664.5,1064.1 L666.6,1061.2 L668.7,1058.6 L670.8,1056.4 L672.9,1054.5 L675.0,1053.0 L677.1,1051.9 L679.2,1051.3 L681.3,1051.0 L683.4,1051.0 L685.5,1051.5 L687.6,1052.3 L689.7,1053.4 L691.8,1054.7 L693.9,1056.3 L696.0,1058.1 L698.1,1060.1 L700.2,1062.2 L702.3,1064.4 L704.4,1066.7 L706.5,1069.0 L708.5,1071.4 L710.6,1073.8 L712.7,1076.2 L714.8,1078.5 L716.9,1080.9 L719.0,1083.2 L721.1,1085.5 L723.2,1087.7 L725.3,1089.9 L727.4,1092.0 L729.5,1094.0 L731.6,1096.0 L733.7,1098.0 L735.8,1099.9 L737.9,1101.7 L740.0,1103.5 L742.1,1105.2 L744.2,1106.8 L746.3,1108.4 L748.4,1110.0 L750.5,1111.5 L752.6,1112.9 L754.7,1114.3 L756.8,1115.7 L758.9,1117.0 L760.9,1118.2 L763.0,1119.5 L765.1,1120.6 L767.2,1121.8 L769.3,1122.9 L771.4,1123.9 L773.5,1125.0 L775.6,1126.0 L777.7,1126.9 L779.8,1127.9 L781.9,1128.8 L784.0,1129.6 L786.1,1130.5 L788.2,1131.3 L790.3,1132.1 L792.4,1132.9 L794.5,1133.6 L796.6,1134.3 L798.7,1135.0 L800.8,1135.7 L802.9,1136.3 L805.0,1137.0 L807.1,1137.6 L809.2,1138.2 L811.3,1138.8 L813.4,1139.3 L815.4,1139.9 L817.5,1140.4 L819.6,1140.9 L821.7,1141.4 L823.8,1141.9 L825.9,1142.4 L828.0,1142.9 L830.1,1143.3 L832.2,1143.7 L834.3,1144.2 L836.4,1144.6 L838.5,1145.0 L840.6,1145.4 L842.7,1145.8 L844.8,1146.2 L846.9,1146.5 L849.0,1146.9 L851.1,1147.3 L853.2,1147.6 L855.3,1148.0 L857.4,1148.3 L859.5,1148.6 L861.6,1148.9 L863.7,1149.2 L865.8,1149.5 L867.9,1149.8 L869.9,1150.1 L872.0,1150.4 L874.1,1150.6 L876.2,1150.9 L878.3,1151.1 L880.4,1151.3 L882.5,1151.5 L884.6,1151.7 L886.7,1151.9 L888.8,1152.1 L890.9,1152.2 L893.0,1152.4 L895.1,1152.5 L897.2,1152.6 L899.3,1152.8 L901.4,1152.9 L903.5,1153.0 L905.6,1153.0 L907.7,1153.1 L909.8,1153.2 L911.9,1153.3 L914.0,1153.3 L916.1,1153.4 L918.2,1153.4 L920.3,1153.4 L922.4,1153.5 L924.4,1153.5 L926.5,1153.5 L928.6,1153.5 L930.7,1153.5 L932.8,1153.5 L934.9,1153.5 L937.0,1153.5 L939.1,1153.5 L941.2,1153.5 L943.3,1153.5 L945.4,1153.5 L947.5,1153.4 L949.6,1153.4 L951.7,1153.4 L953.8,1153.3 L955.9,1153.3 L958.0,1153.3 L960.1,1153.2 L962.2,1153.2 L964.3,1153.1 L966.4,1153.1 L968.5,1153.0 L970.6,1152.9 L972.7,1152.9 L974.8,1152.8 L976.9,1152.7 L978.9,1152.6 L981.0,1152.5 L983.1,1152.4 L985.2,1152.3 L987.3,1152.2 L989.4,1152.1 L991.5,1152.0 L993.6,1151.9 L995.7,1151.8 L997.8,1151.6 L999.9,1151.5 L1002.0,1151.4 L1004.1,1151.2 L1006.2,1151.1 L1008.3,1150.9 L1010.4,1150.7 L1012.5,1150.5 L1014.6,1150.4 L1016.7,1150.2 L1018.8,1150.0 L1020.9,1149.8 L1023.0,1149.6 L1025.1,1149.4 L1027.2,1149.1 L1029.3,1148.9 L1031.4,1148.7 L1033.4,1148.4 L1035.5,1148.2 L1037.6,1148.0 L1039.7,1147.7 L1041.8,1147.4 L1043.9,1147.2 L1046.0,1146.9 L1048.1,1146.6 L1050.2,1146.3 L1052.3,1146.0 L1054.4,1145.8 L1056.5,1145.5 L1058.6,1145.1 L1060.7,1144.8 L1062.8,1144.5 L1064.9,1144.2 L1067.0,1143.8 L1069.1,1143.5 L1071.2,1143.2 L1073.3,1142.8 L1075.4,1142.5 L1077.5,1142.1 L1079.6,1141.7 L1081.7,1141.3 L1083.8,1140.9 L1085.9,1140.6 L1087.9,1140.2 L1090.0,1139.7 L1092.1,1139.3 L1094.2,1138.9 L1096.3,1138.5 L1098.4,1138.0 L1100.5,1137.6 L1102.6,1137.1 L1104.7,1136.7 L1106.8,1136.2 L1108.9,1135.7 L1111.0,1135.3 L1113.1,1134.8 L1115.2,1134.3 L1117.3,1133.8 L1119.4,1133.3 L1121.5,1132.8 L1123.6,1132.2 L1125.7,1131.7 L1127.8,1131.2 L1129.9,1130.6 L1132.0,1130.0 L1134.1,1129.5 L1136.2,1128.9 L1138.3,1128.3 L1140.4,1127.7 L1142.4,1127.1 L1144.5,1126.5 L1146.6,1125.9 L1148.7,1125.2 L1150.8,1124.6 L1152.9,1123.9 L1155.0,1123.2 L1157.1,1122.5 L1159.2,1121.8 L1161.3,1121.1 L1163.4,1120.3 L1165.5,1119.6 L1167.6,1118.8 L1169.7,1118.0 L1171.8,1117.1 L1173.9,1116.3 L1176.0,1115.4 L1178.1,1114.5 L1180.2,1113.6 L1182.3,1112.6 L1184.4,1111.7 L1186.5,1110.7 L1188.6,1109.6 L1190.7,1108.6 L1192.8,1107.5 L1194.9,1106.4 L1196.9,1105.2 L1199.0,1104.0 L1201.1,1102.8 L1203.2,1101.6 L1205.3,1100.3 L1207.4,1099.0 L1209.5,1097.6 L1211.6,1096.2 L1213.7,1094.8 L1215.8,1093.4 L1217.9,1091.9 L1220.0,1090.4 L1222.1,1088.8 L1224.2,1087.3 L1226.3,1085.6 L1228.4,1084.0 L1230.5,1082.3 L1232.6,1080.6 L1234.7,1078.9 L1236.8,1077.1 L1238.9,1075.2 L1241.0,1073.4 L1243.1,1071.5 L1245.2,1069.6 L1247.3,1067.6 L1249.3,1065.5 L1251.4,1063.5 L1253.5,1061.3 L1255.6,1059.1 L1257.7,1056.9 L1259.8,1054.6 L1261.9,1052.2 L1264.0,1049.8 L1266.1,1047.3 L1268.2,1044.7 L1270.3,1042.0 L1272.4,1039.2 L1274.5,1036.4 L1276.6,1033.5 L1278.7,1030.4 L1280.8,1027.3 L1282.9,1024.0 L1285.0,1020.6 L1287.1,1017.1 L1289.2,1013.5 L1291.3,1009.7 L1293.4,1005.7 L1295.5,1001.6 L1297.6,997.4 L1299.7,992.9 L1301.8,988.3 L1303.8,983.4 L1305.9,978.3 L1308.0,973.1 L1310.1,967.5 L1312.2,961.7 L1314.3,955.6 L1316.4,949.3 L1318.5,942.6 L1320.6,935.6 L1322.7,928.2 L1324.8,920.4 L1326.9,912.2 L1329.0,903.6 L1331.1,894.5 L1333.2,884.9 L1335.3,874.8 L1337.4,864.1 L1339.5,852.9 L1341.6,841.0 L1343.7,828.5 L1345.8,815.2 L1347.9,801.3 L1350.0,786.6 L1352.1,771.2 L1354.2,755.1 L1356.3,738.2 L1358.3,720.6 L1360.4,702.4 L1362.5,683.7 L1364.6,664.6 L1366.7,645.4 L1368.8,626.3 L1370.9,607.6 L1373.0,589.9 L1375.1,573.4 L1377.2,558.8 L1379.3,546.7 L1381.4,537.4 L1383.5,531.4 L1385.6,529.0 L1387.7,530.4 L1389.8,535.5 L1391.9,544.0 L1394.0,555.7 L1396.1,570.1 L1398.2,586.5 L1400.3,604.6 L1402.4,623.7 L1404.5,643.5 L1406.6,663.5 L1408.7,683.4 L1410.8,703.1 L1412.8,722.2 L1414.9,740.7 L1417.0,758.6 L1419.1,775.6 L1421.2,791.9 L1423.3,807.4 L1425.4,822.2 L1427.5,836.2 L1429.6,849.4 L1431.7,862.0 L1433.8,873.9 L1435.9,885.2 L1438.0,895.9 L1440.1,906.1 L1442.2,915.7 L1444.3,924.8 L1446.4,933.5 L1448.5,941.7 L1450.6,949.5 L1452.7,957.0 L1454.8,964.1 L1456.9,970.8 L1459.0,977.3 L1461.1,983.4 L1463.2,989.3 L1465.3,994.9 L1467.3,1000.3 L1469.4,1005.5 L1471.5,1010.4 L1473.6,1015.1 L1475.7,1019.7 L1477.8,1024.0 L1479.9,1028.2 L1482.0,1032.3 L1484.1,1036.1 L1486.2,1039.9 L1488.3,1043.4 L1490.4,1046.9 L1492.5,1050.2 L1494.6,1053.5 L1496.7,1056.6 L1498.8,1059.6 L1500.9,1062.5 L1503.0,1065.3 L1505.1,1068.0 L1507.2,1070.6 L1509.3,1073.2 L1511.4,1075.7 L1513.5,1078.1 L1515.6,1080.4 L1517.7,1082.6 L1519.8,1084.8 L1521.8,1087.0 L1523.9,1089.0 L1526.0,1091.0 L1528.1,1093.0 L1530.2,1094.9 L1532.3,1096.8 L1534.4,1098.6 L1536.5,1100.3 L1538.6,1102.0 L1540.7,1103.7 L1542.8,1105.3 L1544.9,1106.9 L1547.0,1108.5 L1549.1,1110.0 L1551.2,1111.5 L1553.3,1112.9 L1555.4,1114.3 L1557.5,1115.7 L1559.6,1117.1 L1561.7,1118.4 L1563.8,1119.7 L1565.9,1120.9 L1568.0,1122.2 L1570.1,1123.4 L1572.2,1124.6 L1574.3,1125.7 L1576.3,1126.9 L1578.4,1128.0 L1580.5,1129.1 L1582.6,1130.1 L1584.7,1131.2 L1586.8,1132.2 L1588.9,1133.2 L1591.0,1134.2 L1593.1,1135.1 L1595.2,1136.1 L1597.3,1137.0 L1599.4,1137.9 L1601.5,1138.8 L1603.6,1139.7 L1605.7,1140.5 L1607.8,1141.4 L1609.9,1142.2 L1612.0,1143.0 L1614.1,1143.8 L1616.2,1144.6 L1618.3,1145.4 L1620.4,1146.1 L1622.5,1146.9 L1624.6,1147.6 L1626.7,1148.3 L1628.8,1149.0 L1630.8,1149.7 L1632.9,1150.4 L1635.0,1151.1 L1637.1,1151.8 L1639.2,1152.4 L1641.3,1153.0 L1643.4,1153.7 L1645.5,1154.3 L1647.6,1154.9 L1649.7,1155.5 L1651.8,1156.1 L1653.9,1156.7 L1656.0,1157.3 L1658.1,1157.9 L1660.2,1158.4 L1662.3,1159.0 L1664.4,1159.5 L1666.5,1160.0 L1668.6,1160.6 L1670.7,1161.1 L1672.8,1161.6 L1674.9,1162.1 L1677.0,1162.6 L1679.1,1163.1 L1681.2,1163.6 L1683.3,1164.1 L1685.3,1164.5 L1687.4,1165.0 L1689.5,1165.5 L1691.6,1165.9 L1693.7,1166.3 L1695.8,1166.8 L1697.9,1167.2 L1700.0,1167.6 L1702.1,1168.1 L1704.2,1168.5 L1706.3,1168.9 L1708.4,1169.3 L1710.5,1169.7" stroke-dasharray="16.6 18"/>
<path d="M245.3,1219.4 L259.9,1216.0 L269.9,1215.4 L285.8,1213.8 L301.7,1211.0 L315.6,1208.0 L323.6,1205.5 L329.6,1201.5 L339.5,1195.9 L347.5,1191.1 L354.4,1186.0 L365.4,1186.8 L379.3,1183.6 L387.3,1181.2 L403.2,1181.2 L419.1,1181.2 L428.0,1184.6 L437.9,1187.0 L453.8,1187.2 L469.8,1186.8 L479.7,1184.0 L489.7,1181.2 L495.6,1179.0 L499.6,1181.2 L504.6,1184.6 L513.5,1183.6 L523.5,1179.0 L535.4,1176.2 L549.4,1175.6 L563.3,1173.2 L575.2,1173.6 L583.2,1161.7 L591.1,1153.7 L599.1,1151.3 L609.1,1142.8 L615.9,1133.3 L621.9,1117.4 L627.9,1099.5 L633.8,1083.6 L639.8,1072.6 L648.8,1071.6 L657.7,1080.6 L665.7,1088.6 L675.6,1085.6 L682.6,1077.6 L695.5,1077.6 L709.5,1077.6 L719.4,1082.6 L735.3,1085.6 L749.3,1089.6 L765.2,1097.5 L780.0,1103.6 L795.9,1109.5 L809.9,1113.6 L825.8,1116.6 L841.7,1119.0 L859.6,1118.6 L871.5,1113.6 L887.5,1103.7 L903.4,1097.7 L923.3,1094.1 L941.2,1092.7 L955.1,1087.8 L971.0,1082.2 L980.0,1081.2 L999.8,1072.6 L1013.7,1068.1 L1023.7,1066.3 L1029.7,1068.7 L1039.6,1072.6 L1053.5,1069.3 L1068.5,1069.7 L1079.4,1058.7 L1093.3,1046.2 L1107.3,1036.8 L1117.2,1036.2 L1129.2,1042.8 L1141.1,1048.8 L1151.5,1059.5 L1163.9,1074.1 L1175.8,1080.1 L1193.7,1080.1 L1205.7,1074.1 L1217.6,1064.2 L1229.3,1046.7 L1230.6,1045.1 L1231.8,1043.5 L1233.1,1042.0 L1234.3,1040.4 L1235.5,1038.8 L1236.6,1037.2 L1237.7,1035.5 L1238.9,1033.9 L1240.0,1032.2 L1241.0,1030.5 L1242.1,1028.8 L1243.2,1027.1 L1244.2,1025.4 L1245.2,1023.7 L1246.2,1022.0 L1247.1,1020.2 L1248.1,1018.5 L1249.0,1016.7 L1250.0,1015.0 L1250.9,1013.2 L1251.8,1011.4 L1252.7,1009.6 L1253.6,1007.8 L1254.5,1006.0 L1255.4,1004.2 L1256.2,1002.4 L1257.1,1000.6 L1258.0,998.8 L1258.9,997.0 L1259.7,995.2 L1260.6,993.4 L1261.5,991.6 L1262.3,989.8 L1263.2,988.0 L1264.0,986.2 L1264.9,984.4 L1265.7,982.6 L1266.6,980.8 L1267.4,979.0 L1268.2,977.1 L1269.1,975.3 L1269.9,973.5 L1270.7,971.7 L1271.5,969.8 L1272.3,968.0 L1273.1,966.2 L1273.8,964.3 L1274.6,962.5 L1275.3,960.6 L1276.0,958.7 L1276.8,956.9 L1277.5,955.0 L1278.2,953.2 L1279.0,951.3 L1279.7,949.4 L1280.4,947.6 L1281.2,945.7 L1281.9,943.9 L1282.7,942.0 L1283.5,940.2 L1284.2,938.4 L1285.0,936.5 L1285.8,934.7 L1286.6,932.9 L1287.4,931.0 L1288.2,929.2 L1289.0,927.4 L1289.8,925.5 L1290.5,923.7 L1291.3,921.9 L1292.0,920.0 L1292.8,918.1 L1293.5,916.3 L1294.2,914.4 L1294.9,912.6 L1295.6,910.7 L1296.3,908.8 L1297.0,906.9 L1297.7,905.0 L1298.4,903.2 L1299.0,901.3 L1299.7,899.4 L1300.4,897.5 L1301.0,895.6 L1301.7,893.7 L1302.4,891.9 L1303.0,890.0 L1303.7,888.1 L1304.4,886.2 L1305.1,884.3 L1305.7,882.4 L1306.4,880.6 L1307.1,878.7 L1307.7,876.8 L1308.4,874.9 L1309.0,873.0 L1309.6,871.1 L1310.2,869.2 L1310.9,867.3 L1311.4,865.4 L1312.0,863.5 L1312.6,861.6 L1313.1,859.6 L1313.7,857.7 L1314.2,855.8 L1314.7,853.9 L1315.2,851.9 L1315.8,850.0 L1316.2,848.1 L1316.7,846.1 L1317.2,844.2 L1317.7,842.2 L1318.2,840.3 L1318.7,838.4 L1319.1,836.4 L1319.6,834.5 L1320.1,832.5 L1320.5,830.6 L1321.0,828.6 L1321.4,826.7 L1321.9,824.7 L1322.3,822.8 L1322.8,820.8 L1323.2,818.9 L1323.7,816.9 L1324.1,815.0 L1324.6,813.0 L1325.0,811.1 L1325.4,809.1 L1325.8,807.2 L1326.2,805.2 L1326.7,803.3 L1327.1,801.3 L1327.5,799.3 L1327.9,797.4 L1328.3,795.4 L1328.7,793.5 L1329.1,791.5 L1329.5,789.6 L1329.9,787.6 L1330.3,785.6 L1330.7,783.7 L1331.1,781.7 L1331.5,779.8 L1331.9,777.8 L1332.3,775.8 L1332.6,773.9 L1333.0,771.9 L1333.4,769.9 L1333.8,768.0 L1334.1,766.0 L1334.5,764.0 L1334.9,762.1 L1335.3,760.1 L1335.6,758.2 L1336.0,756.2 L1336.4,754.2 L1336.8,752.3 L1337.2,750.3 L1337.6,748.3 L1338.0,746.4 L1338.4,744.4 L1338.8,742.5 L1339.2,740.5 L1339.7,738.6 L1340.1,736.6 L1340.5,734.7 L1340.9,732.7 L1341.3,730.7 L1341.8,728.8 L1342.2,726.8 L1342.6,724.9 L1343.0,722.9 L1343.4,721.0 L1343.7,719.0 L1344.1,717.0 L1344.5,715.1 L1344.8,713.1 L1345.1,711.1 L1345.5,709.2 L1345.8,707.2 L1346.1,705.2 L1346.4,703.2 L1346.6,701.3 L1346.9,699.3 L1347.2,697.3 L1347.5,695.3 L1347.7,693.3 L1348.0,691.3 L1348.3,689.4 L1348.6,687.4 L1348.8,685.4 L1349.1,683.4 L1349.4,681.4 L1349.7,679.5 L1350.0,677.5 L1350.3,675.5 L1350.6,673.5 L1350.9,671.6 L1351.2,669.6 L1351.5,667.6 L1351.8,665.6 L1352.2,663.7 L1352.5,661.7 L1352.8,659.7 L1353.1,657.7 L1353.5,655.8 L1353.8,653.8 L1354.1,651.8 L1354.4,649.8 L1354.7,647.9 L1355.0,645.9 L1355.3,643.9 L1355.6,641.9 L1355.9,639.9 L1356.2,638.0 L1356.5,636.0 L1356.8,634.0 L1357.0,632.0 L1357.3,630.0 L1357.6,628.1 L1357.8,626.1 L1358.1,624.1 L1358.4,622.1 L1358.6,620.1 L1358.9,618.2 L1359.2,616.2 L1359.4,614.2 L1359.7,612.2 L1360.0,610.2 L1360.3,608.3 L1360.6,606.3 L1360.8,604.3 L1361.1,602.3 L1361.4,600.3 L1361.7,598.4 L1362.1,596.4 L1362.4,594.4 L1362.7,592.4 L1363.0,590.5 L1363.3,588.5 L1363.7,586.5 L1364.0,584.5 L1364.3,582.6 L1364.7,580.6 L1365.0,578.6 L1365.3,576.7 L1365.7,574.7 L1366.0,572.7 L1366.4,570.7 L1366.7,568.8 L1367.1,566.8 L1367.4,564.8 L1367.8,562.9 L1368.2,560.9 L1368.5,558.9 L1368.9,556.9 L1369.2,555.0 L1369.6,553.0 L1370.0,551.0 L1370.4,549.1 L1370.8,547.1 L1371.1,545.1 L1371.5,543.1 L1371.9,541.2 L1372.3,539.2 L1372.8,537.2 L1373.2,535.3 L1373.6,533.3 L1374.0,531.4 L1374.5,529.5 L1374.9,527.6 L1375.4,525.7 L1375.9,523.8 L1376.5,522.0 L1377.2,520.2 L1378.0,518.2 L1379.1,516.2 L1380.5,514.3 L1381.9,513.0 L1383.3,512.6 L1384.7,513.2 L1386.1,514.7 L1387.4,516.6 L1388.5,518.6 L1389.3,520.5 L1389.9,522.4 L1390.5,524.2 L1391.0,526.1 L1391.5,528.0 L1392.0,529.9 L1392.4,531.9 L1392.8,533.8 L1393.3,535.8 L1393.7,537.7 L1394.1,539.7 L1394.6,541.6 L1395.0,543.6 L1395.4,545.5 L1395.8,547.5 L1396.2,549.4 L1396.6,551.4 L1396.9,553.4 L1397.3,555.3 L1397.7,557.3 L1398.0,559.3 L1398.4,561.3 L1398.7,563.2 L1399.1,565.2 L1399.4,567.2 L1399.8,569.1 L1400.1,571.1 L1400.5,573.1 L1400.8,575.1 L1401.1,577.0 L1401.5,579.0 L1401.8,581.0 L1402.1,582.9 L1402.4,584.9 L1402.8,586.9 L1403.1,588.9 L1403.4,590.8 L1403.7,592.8 L1404.0,594.8 L1404.4,596.8 L1404.7,598.7 L1405.0,600.7 L1405.3,602.7 L1405.7,604.7 L1406.0,606.6 L1406.3,608.6 L1406.7,610.6 L1407.0,612.5 L1407.3,614.5 L1407.7,616.5 L1408.0,618.5 L1408.3,620.4 L1408.7,622.4 L1409.0,624.4 L1409.3,626.3 L1409.7,628.3 L1410.0,630.3 L1410.4,632.3 L1410.7,634.2 L1411.1,636.2 L1411.4,638.2 L1411.8,640.1 L1412.1,642.1 L1412.5,644.1 L1412.9,646.0 L1413.2,648.0 L1413.6,650.0 L1414.0,651.9 L1414.3,653.9 L1414.7,655.9 L1415.1,657.8 L1415.4,659.8 L1415.8,661.8 L1416.2,663.7 L1416.5,665.7 L1416.9,667.7 L1417.3,669.6 L1417.6,671.6 L1417.9,673.6 L1418.3,675.5 L1418.6,677.5 L1419.0,679.5 L1419.3,681.5 L1419.6,683.4 L1419.9,685.4 L1420.2,687.4 L1420.5,689.4 L1420.8,691.3 L1421.2,693.3 L1421.5,695.3 L1421.8,697.3 L1422.1,699.2 L1422.4,701.2 L1422.7,703.2 L1423.0,705.2 L1423.3,707.1 L1423.6,709.1 L1424.0,711.1 L1424.3,713.1 L1424.6,715.0 L1425.0,717.0 L1425.3,719.0 L1425.7,720.9 L1426.1,722.9 L1426.4,724.9 L1426.8,726.8 L1427.2,728.8 L1427.6,730.8 L1427.9,732.7 L1428.3,734.7 L1428.7,736.6 L1429.1,738.6 L1429.5,740.6 L1429.9,742.5 L1430.4,744.5 L1430.8,746.4 L1431.2,748.4 L1431.6,750.3 L1432.0,752.3 L1432.4,754.3 L1432.8,756.2 L1433.2,758.2 L1433.6,760.1 L1434.1,762.1 L1434.5,764.0 L1434.9,766.0 L1435.3,768.0 L1435.7,769.9 L1436.1,771.9 L1436.5,773.8 L1436.9,775.8 L1437.3,777.7 L1437.8,779.7 L1438.2,781.7 L1438.6,783.6 L1439.0,785.6 L1439.5,787.5 L1439.9,789.5 L1440.3,791.4 L1440.8,793.4 L1441.2,795.3 L1441.7,797.3 L1442.2,799.2 L1442.6,801.2 L1443.1,803.1 L1443.6,805.0 L1444.0,807.0 L1444.5,808.9 L1445.0,810.9 L1445.5,812.8 L1446.0,814.7 L1446.5,816.7 L1447.0,818.6 L1447.5,820.6 L1448.0,822.5 L1448.5,824.4 L1449.0,826.4 L1449.5,828.3 L1450.0,830.2 L1450.6,832.1 L1451.1,834.1 L1451.6,836.0 L1452.2,837.9 L1452.7,839.8 L1453.3,841.8 L1453.8,843.7 L1454.4,845.6 L1455.0,847.5 L1455.5,849.4 L1456.1,851.4 L1456.7,853.3 L1457.3,855.2 L1457.9,857.1 L1458.5,859.0 L1459.1,860.9 L1459.7,862.8 L1460.3,864.7 L1460.9,866.6 L1461.6,868.5 L1462.2,870.4 L1462.8,872.3 L1463.5,874.2 L1464.1,876.1 L1464.8,878.0 L1465.4,879.9 L1466.1,881.8 L1466.8,883.6 L1467.4,885.5 L1468.1,887.4 L1468.8,889.3 L1469.5,891.2 L1470.1,893.1 L1470.8,894.9 L1471.5,896.8 L1472.2,898.7 L1472.8,900.6 L1473.5,902.5 L1474.2,904.3 L1474.9,906.2 L1475.6,908.1 L1476.3,910.0 L1476.9,911.9 L1477.6,913.7 L1478.3,915.6 L1479.0,917.5 L1479.7,919.4 L1480.4,921.3 L1481.1,923.1 L1481.7,925.0 L1482.4,926.9 L1483.2,928.8 L1483.9,930.6 L1484.6,932.5 L1485.3,934.3 L1486.1,936.2 L1486.8,938.0 L1487.6,939.9 L1488.4,941.7 L1489.2,943.5 L1490.0,945.4 L1490.9,947.2 L1491.7,949.0 L1492.6,950.8 L1493.4,952.6 L1494.3,954.4 L1495.2,956.1 L1496.2,957.9 L1497.1,959.7 L1498.0,961.5 L1499.0,963.2 L1499.9,965.0 L1500.9,966.7 L1501.9,968.5 L1502.9,970.2 L1503.9,971.9 L1504.9,973.7 L1505.9,975.4 L1506.9,977.1 L1508.0,978.8 L1509.0,980.5 L1510.1,982.2 L1511.2,983.9 L1512.2,985.6 L1513.3,987.3 L1514.4,988.9 L1515.5,990.6 L1516.6,992.3 L1517.7,993.9 L1518.8,995.6 L1520.0,997.2 L1521.1,998.9 L1522.3,1000.5 L1523.4,1002.2 L1524.6,1003.8 L1525.7,1005.4 L1526.9,1007.0 L1528.1,1008.6 L1529.3,1010.2 L1530.5,1011.8 L1531.7,1013.4 L1532.9,1015.0 L1534.1,1016.6 L1535.3,1018.2 L1536.6,1019.8 L1537.8,1021.3 L1539.1,1022.9 L1540.3,1024.5 L1541.6,1026.0 L1542.9,1027.6 L1544.1,1029.1 L1545.4,1030.6 L1546.7,1032.1 L1548.1,1033.6 L1549.4,1035.1 L1550.7,1036.6 L1552.1,1038.1 L1553.4,1039.6 L1554.8,1041.0 L1556.1,1042.5 L1557.5,1043.9 L1558.9,1045.3 L1560.3,1046.8 L1561.8,1048.2 L1563.2,1049.6 L1564.6,1050.9 L1566.1,1052.3 L1567.6,1053.7 L1569.0,1055.0 L1570.5,1056.3 L1572.0,1057.6 L1573.6,1058.9 L1575.1,1060.2 L1576.6,1061.5 L1578.2,1062.8 L1579.7,1064.0 L1581.3,1065.3 L1582.9,1066.5 L1584.4,1067.7 L1586.0,1068.9 L1587.6,1070.1 L1589.2,1071.3 L1590.9,1072.5 L1592.5,1073.7 L1594.1,1074.8 L1595.7,1076.0 L1597.4,1077.1 L1599.0,1078.3 L1600.7,1079.4 L1602.3,1080.5 L1604.0,1081.6 L1605.7,1082.7 L1607.4,1083.8 L1609.0,1084.9 L1610.7,1085.9 L1612.4,1087.0 L1614.1,1088.0 L1615.8,1089.0 L1617.6,1090.1 L1619.3,1091.1 L1621.0,1092.1 L1622.8,1093.1 L1624.5,1094.1 L1626.2,1095.0 L1628.0,1096.0 L1629.8,1096.9 L1631.5,1097.9 L1633.3,1098.8 L1635.0,1099.8 L1636.8,1100.7 L1638.6,1101.6 L1640.4,1102.5 L1642.2,1103.4 L1643.9,1104.3 L1645.7,1105.2 L1647.5,1106.1 L1649.3,1107.0 L1651.1,1107.8 L1653.0,1108.7 L1654.8,1109.5 L1656.6,1110.3 L1658.4,1111.1 L1660.3,1111.9 L1662.1,1112.7 L1664.0,1113.4 L1665.8,1114.2 L1667.7,1114.9 L1669.5,1115.6 L1671.4,1116.3 L1673.3,1117.0 L1675.2,1117.7 L1677.0,1118.3 L1678.9,1118.9 L1680.8,1119.5 L1682.7,1120.1 L1684.5,1120.6 L1686.4,1121.1 L1688.2,1121.6 L1690.1,1122.1 L1691.8,1122.5 L1693.6,1122.8 L1695.2,1123.2 L1696.8,1123.5 L1698.4,1123.8 L1699.8,1124.0 L1701.1,1124.2 L1702.4,1124.4 L1703.5,1124.5 L1710.8,1125.1"/>
</g>
<g font-family='"Liberation Serif", "DejaVu Serif", serif' font-weight="bold" font-size="54.5" fill="#262626" stroke="#fff" stroke-width="0.7" stroke-linejoin="round">
<g text-anchor="end">
<text x="224.6" y="1239.8">0</text>
<text x="224.6" y="1124.5">0.005</text>
<text x="224.6" y="1009.2">0.01</text>
<text x="224.6" y="893.9">0.015</text>
<text x="224.6" y="778.6">0.02</text>
<text x="224.6" y="663.3">0.025</text>
<text x="224.6" y="548.0">0.03</text>
<text x="224.6" y="432.7">0.035</text>
<text x="224.6" y="317.4">0.04</text>
<text x="224.6" y="202.1">0.045</text>
<text x="224.6" y="86.8">0.05</text>
</g><g text-anchor="middle">
<text x="269.6" y="1292.0">25</text>
<text x="401.7" y="1292.0">50</text>
<text x="532.2" y="1292.0">75</text>
<text x="663.5" y="1292.0">100</text>
<text x="794.6" y="1292.0">125</text>
<text x="926.1" y="1292.0">150</text>
<text x="1055.6" y="1292.0">175</text>
<text x="1186.3" y="1292.0">200</text>
<text x="1317.3" y="1292.0">225</text>
<text x="1448.5" y="1292.0">250</text>
<text x="1578.9" y="1292.0">275</text>
<text x="1709.3" y="1292.0">300</text>
</g>
<g font-size="53.5">
<text x="978.6" y="1355" text-anchor="middle" textLength="345.5" lengthAdjust="spacing">Frequency(Hz)</text>
<text transform="translate(76.9,644.3) rotate(-90)" text-anchor="middle" textLength="421" lengthAdjust="spacing">Amplitude(m/s<tspan font-size="44" dy="-26">2</tspan><tspan dy="26">N)</tspan></text>
</g>
<g text-anchor="start" fill="#000" font-size="53.5">
<text x="1379" y="167.3" textLength="167.5" lengthAdjust="spacing">Theory</text>
<text x="1379" y="232.8" textLength="271.5" lengthAdjust="spacing">Experiment</text>
</g>
</g>
<g fill="none" stroke="#000">
<path stroke-width="4.9" d="M1267,148.3 h16.9 M1302.2,148.3 h17 M1336.5,148.3 h18"/>
<path stroke-width="3.9" d="M1267,214.6 h101.2"/>
</g>
<g font-family='"Liberation Serif", "DejaVu Serif", serif' fill="#000" font-size="100"><text transform="translate(891.89,1464.73) scale(0.7626,0.8556)">(</text><text transform="translate(918.27,1465.97) scale(0.9046,0.8821)" font-weight="bold">b</text><text transform="translate(969.77,1464.73) scale(0.7743,0.8556)">)</text></g>
</g>
<g transform="translate(0,3059.45)">
<g fill="none" stroke="#424242" stroke-width="2.4">
<rect x="245.3" y="67.9" width="1465.2" height="1153.0"/>
<path d="M269.0,1220.9 v-14.5 M269.0,67.9 v14.5 M400.3,1220.9 v-14.5 M400.3,67.9 v14.5 M531.6,1220.9 v-14.5 M531.6,67.9 v14.5 M662.6,1220.9 v-14.5 M662.6,67.9 v14.5 M793.5,1220.9 v-14.5 M793.5,67.9 v14.5 M924.5,1220.9 v-14.5 M924.5,67.9 v14.5 M1055.8,1220.9 v-14.5 M1055.8,67.9 v14.5 M1186.8,1220.9 v-14.5 M1186.8,67.9 v14.5 M1317.7,1220.9 v-14.5 M1317.7,67.9 v14.5 M1448.6,1220.9 v-14.5 M1448.6,67.9 v14.5 M1579.6,1220.9 v-14.5 M1579.6,67.9 v14.5 M245.3,1106.3 h14.5 M1710.5,1106.3 h-14.5 M245.3,991.5 h14.5 M1710.5,991.5 h-14.5 M245.3,875.4 h14.5 M1710.5,875.4 h-14.5 M245.3,760.2 h14.5 M1710.5,760.2 h-14.5 M245.3,645.4 h14.5 M1710.5,645.4 h-14.5 M245.3,528.7 h14.5 M1710.5,528.7 h-14.5 M245.3,413.2 h14.5 M1710.5,413.2 h-14.5 M245.3,297.3 h14.5 M1710.5,297.3 h-14.5 M245.3,182.7 h14.5 M1710.5,182.7 h-14.5"/>
</g>
<g clip-path="url(#clip)" fill="none" stroke="#000" stroke-width="4.25" stroke-linejoin="round">
<path d="M245.3,1219.4 L247.4,1219.5 L249.5,1219.5 L251.6,1219.6 L253.7,1219.6 L255.8,1219.6 L257.9,1219.7 L260.0,1219.7 L262.1,1219.7 L264.2,1219.7 L266.3,1219.7 L268.4,1219.6 L270.5,1219.6 L272.5,1219.6 L274.6,1219.5 L276.7,1219.5 L278.8,1219.4 L280.9,1219.4 L283.0,1219.3 L285.1,1219.3 L287.2,1219.3 L289.3,1219.2 L291.4,1219.2 L293.5,1219.1 L295.6,1219.1 L297.7,1219.0 L299.8,1218.9 L301.9,1218.9 L304.0,1218.8 L306.1,1218.8 L308.2,1218.7 L310.3,1218.7 L312.4,1218.6 L314.5,1218.5 L316.6,1218.5 L318.7,1218.4 L320.8,1218.4 L322.9,1218.3 L325.0,1218.2 L327.0,1218.1 L329.1,1218.1 L331.2,1218.0 L333.3,1217.9 L335.4,1217.8 L337.5,1217.8 L339.6,1217.7 L341.7,1217.6 L343.8,1217.5 L345.9,1217.4 L348.0,1217.3 L350.1,1217.3 L352.2,1217.2 L354.3,1217.1 L356.4,1217.0 L358.5,1216.9 L360.6,1216.8 L362.7,1216.7 L364.8,1216.6 L366.9,1216.5 L369.0,1216.3 L371.1,1216.2 L373.2,1216.1 L375.3,1216.0 L377.4,1215.9 L379.5,1215.8 L381.5,1215.6 L383.6,1215.5 L385.7,1215.4 L387.8,1215.3 L389.9,1215.1 L392.0,1215.0 L394.1,1214.9 L396.2,1214.7 L398.3,1214.6 L400.4,1214.4 L402.5,1214.3 L404.6,1214.1 L406.7,1214.0 L408.8,1213.8 L410.9,1213.7 L413.0,1213.5 L415.1,1213.4 L417.2,1213.2 L419.3,1213.0 L421.4,1212.8 L423.5,1212.7 L425.6,1212.5 L427.7,1212.3 L429.8,1212.1 L431.9,1211.9 L434.0,1211.7 L436.0,1211.5 L438.1,1211.3 L440.2,1211.1 L442.3,1210.9 L444.4,1210.7 L446.5,1210.4 L448.6,1210.2 L450.7,1210.0 L452.8,1209.7 L454.9,1209.5 L457.0,1209.2 L459.1,1209.0 L461.2,1208.7 L463.3,1208.4 L465.4,1208.2 L467.5,1207.9 L469.6,1207.6 L471.7,1207.3 L473.8,1207.0 L475.9,1206.7 L478.0,1206.4 L480.1,1206.1 L482.2,1205.7 L484.3,1205.4 L486.4,1205.1 L488.5,1204.7 L490.5,1204.3 L492.6,1204.0 L494.7,1203.6 L496.8,1203.2 L498.9,1202.8 L501.0,1202.4 L503.1,1201.9 L505.2,1201.5 L507.3,1201.1 L509.4,1200.6 L511.5,1200.1 L513.6,1199.6 L515.7,1199.1 L517.8,1198.6 L519.9,1198.1 L522.0,1197.5 L524.1,1196.9 L526.2,1196.4 L528.3,1195.8 L530.4,1195.1 L532.5,1194.5 L534.6,1193.8 L536.7,1193.2 L538.8,1192.5 L540.9,1191.7 L543.0,1191.0 L545.0,1190.2 L547.1,1189.4 L549.2,1188.6 L551.3,1187.8 L553.4,1186.9 L555.5,1186.1 L557.6,1185.1 L559.7,1184.2 L561.8,1183.2 L563.9,1182.2 L566.0,1181.2 L568.1,1180.2 L570.2,1179.1 L572.3,1177.9 L574.4,1176.8 L576.5,1175.6 L578.6,1174.3 L580.7,1173.1 L582.8,1171.7 L584.9,1170.4 L587.0,1168.9 L589.1,1167.5 L591.2,1166.0 L593.3,1164.4 L595.4,1162.7 L597.5,1161.0 L599.5,1159.2 L601.6,1157.4 L603.7,1155.5 L605.8,1153.5 L607.9,1151.4 L610.0,1149.2 L612.1,1146.9 L614.2,1144.6 L616.3,1142.1 L618.4,1139.5 L620.5,1136.8 L622.6,1134.0 L624.7,1131.0 L626.8,1128.0 L628.9,1124.8 L631.0,1121.4 L633.1,1117.9 L635.2,1114.3 L637.3,1110.6 L639.4,1106.8 L641.5,1102.8 L643.6,1098.7 L645.7,1094.5 L647.8,1090.2 L649.9,1085.9 L652.0,1081.5 L654.0,1077.1 L656.1,1072.8 L658.2,1068.5 L660.3,1064.4 L662.4,1060.4 L664.5,1056.7 L666.6,1053.2 L668.7,1050.0 L670.8,1047.3 L672.9,1044.9 L675.0,1043.0 L677.1,1041.5 L679.2,1040.6 L681.3,1040.1 L683.4,1040.1 L685.5,1040.5 L687.6,1041.4 L689.7,1042.6 L691.8,1044.2 L693.9,1046.0 L696.0,1048.2 L698.1,1050.5 L700.2,1052.9 L702.3,1055.5 L704.4,1058.2 L706.5,1060.9 L708.5,1063.7 L710.6,1066.5 L712.7,1069.2 L714.8,1071.9 L716.9,1074.6 L719.0,1077.3 L721.1,1079.9 L723.2,1082.4 L725.3,1084.9 L727.4,1087.3 L729.5,1089.6 L731.6,1091.8 L733.7,1094.0 L735.8,1096.1 L737.9,1098.2 L740.0,1100.1 L742.1,1102.0 L744.2,1103.8 L746.3,1105.6 L748.4,1107.3 L750.5,1109.0 L752.6,1110.5 L754.7,1112.1 L756.8,1113.5 L758.9,1114.9 L760.9,1116.3 L763.0,1117.6 L765.1,1118.9 L767.2,1120.1 L769.3,1121.3 L771.4,1122.4 L773.5,1123.5 L775.6,1124.6 L777.7,1125.6 L779.8,1126.6 L781.9,1127.6 L784.0,1128.5 L786.1,1129.4 L788.2,1130.2 L790.3,1131.1 L792.4,1131.9 L794.5,1132.6 L796.6,1133.4 L798.7,1134.1 L800.8,1134.8 L802.9,1135.5 L805.0,1136.1 L807.1,1136.8 L809.2,1137.4 L811.3,1138.0 L813.4,1138.5 L815.4,1139.1 L817.5,1139.6 L819.6,1140.1 L821.7,1140.7 L823.8,1141.1 L825.9,1141.6 L828.0,1142.1 L830.1,1142.5 L832.2,1143.0 L834.3,1143.4 L836.4,1143.8 L838.5,1144.2 L840.6,1144.6 L842.7,1145.0 L844.8,1145.4 L846.9,1145.7 L849.0,1146.1 L851.1,1146.5 L853.2,1146.8 L855.3,1147.1 L857.4,1147.5 L859.5,1147.8 L861.6,1148.1 L863.7,1148.4 L865.8,1148.7 L867.9,1149.0 L869.9,1149.3 L872.0,1149.6 L874.1,1149.9 L876.2,1150.1 L878.3,1150.4 L880.4,1150.7 L882.5,1150.9 L884.6,1151.1 L886.7,1151.4 L888.8,1151.6 L890.9,1151.8 L893.0,1152.0 L895.1,1152.2 L897.2,1152.4 L899.3,1152.6 L901.4,1152.7 L903.5,1152.9 L905.6,1153.0 L907.7,1153.2 L909.8,1153.3 L911.9,1153.4 L914.0,1153.5 L916.1,1153.6 L918.2,1153.7 L920.3,1153.8 L922.4,1153.8 L924.4,1153.9 L926.5,1154.0 L928.6,1154.0 L930.7,1154.0 L932.8,1154.1 L934.9,1154.1 L937.0,1154.1 L939.1,1154.1 L941.2,1154.1 L943.3,1154.1 L945.4,1154.1 L947.5,1154.1 L949.6,1154.0 L951.7,1154.0 L953.8,1154.0 L955.9,1153.9 L958.0,1153.9 L960.1,1153.8 L962.2,1153.8 L964.3,1153.7 L966.4,1153.6 L968.5,1153.6 L970.6,1153.5 L972.7,1153.4 L974.8,1153.3 L976.9,1153.2 L978.9,1153.1 L981.0,1153.0 L983.1,1152.9 L985.2,1152.7 L987.3,1152.6 L989.4,1152.5 L991.5,1152.3 L993.6,1152.2 L995.7,1152.1 L997.8,1151.9 L999.9,1151.7 L1002.0,1151.6 L1004.1,1151.4 L1006.2,1151.2 L1008.3,1151.1 L1010.4,1150.9 L1012.5,1150.7 L1014.6,1150.5 L1016.7,1150.3 L1018.8,1150.1 L1020.9,1149.9 L1023.0,1149.7 L1025.1,1149.5 L1027.2,1149.2 L1029.3,1149.0 L1031.4,1148.8 L1033.4,1148.6 L1035.5,1148.3 L1037.6,1148.1 L1039.7,1147.8 L1041.8,1147.6 L1043.9,1147.3 L1046.0,1147.1 L1048.1,1146.8 L1050.2,1146.6 L1052.3,1146.3 L1054.4,1146.0 L1056.5,1145.8 L1058.6,1145.5 L1060.7,1145.2 L1062.8,1144.9 L1064.9,1144.6 L1067.0,1144.3 L1069.1,1144.0 L1071.2,1143.7 L1073.3,1143.4 L1075.4,1143.1 L1077.5,1142.8 L1079.6,1142.5 L1081.7,1142.1 L1083.8,1141.8 L1085.9,1141.5 L1087.9,1141.1 L1090.0,1140.8 L1092.1,1140.4 L1094.2,1140.1 L1096.3,1139.7 L1098.4,1139.3 L1100.5,1138.9 L1102.6,1138.5 L1104.7,1138.2 L1106.8,1137.8 L1108.9,1137.3 L1111.0,1136.9 L1113.1,1136.5 L1115.2,1136.1 L1117.3,1135.6 L1119.4,1135.2 L1121.5,1134.7 L1123.6,1134.3 L1125.7,1133.8 L1127.8,1133.3 L1129.9,1132.8 L1132.0,1132.3 L1134.1,1131.8 L1136.2,1131.3 L1138.3,1130.8 L1140.4,1130.2 L1142.4,1129.7 L1144.5,1129.1 L1146.6,1128.6 L1148.7,1128.0 L1150.8,1127.4 L1152.9,1126.8 L1155.0,1126.2 L1157.1,1125.6 L1159.2,1124.9 L1161.3,1124.3 L1163.4,1123.6 L1165.5,1123.0 L1167.6,1122.3 L1169.7,1121.6 L1171.8,1120.8 L1173.9,1120.1 L1176.0,1119.4 L1178.1,1118.6 L1180.2,1117.8 L1182.3,1117.0 L1184.4,1116.2 L1186.5,1115.4 L1188.6,1114.5 L1190.7,1113.7 L1192.8,1112.8 L1194.9,1111.9 L1196.9,1111.0 L1199.0,1110.0 L1201.1,1109.0 L1203.2,1108.0 L1205.3,1107.0 L1207.4,1106.0 L1209.5,1104.9 L1211.6,1103.7 L1213.7,1102.5 L1215.8,1101.3 L1217.9,1100.1 L1220.0,1098.8 L1222.1,1097.5 L1224.2,1096.1 L1226.3,1094.7 L1228.4,1093.2 L1230.5,1091.9 L1232.6,1090.5 L1234.7,1089.0 L1236.8,1087.5 L1238.9,1086.0 L1241.0,1084.5 L1243.1,1082.9 L1245.2,1081.4 L1247.3,1079.7 L1249.3,1078.0 L1251.4,1076.3 L1253.5,1074.6 L1255.6,1072.7 L1257.7,1070.9 L1259.8,1068.9 L1261.9,1067.0 L1264.0,1064.9 L1266.1,1062.8 L1268.2,1060.7 L1270.3,1058.4 L1272.4,1056.1 L1274.5,1053.7 L1276.6,1051.3 L1278.7,1048.8 L1280.8,1046.1 L1282.9,1043.4 L1285.0,1040.6 L1287.1,1037.7 L1289.2,1034.7 L1291.3,1031.6 L1293.4,1028.4 L1295.5,1025.0 L1297.6,1021.6 L1299.7,1018.0 L1301.8,1014.2 L1303.8,1010.4 L1305.9,1006.3 L1308.0,1002.1 L1310.1,997.7 L1312.2,993.1 L1314.3,988.4 L1316.4,983.4 L1318.5,978.2 L1320.6,972.8 L1322.7,967.1 L1324.8,961.2 L1326.9,954.9 L1329.0,948.4 L1331.1,941.6 L1333.2,934.4 L1335.3,926.8 L1337.4,918.9 L1339.5,910.5 L1341.6,901.7 L1343.7,892.4 L1345.8,882.6 L1347.9,872.2 L1350.0,861.3 L1352.1,849.8 L1354.2,837.6 L1356.3,824.6 L1358.3,811.0 L1360.4,796.6 L1362.5,781.3 L1364.6,765.2 L1366.7,748.3 L1368.8,730.5 L1370.9,711.8 L1373.0,692.4 L1375.1,672.2 L1377.2,651.4 L1379.3,630.2 L1381.4,608.8 L1383.5,587.7 L1385.6,567.1 L1387.7,547.6 L1389.8,529.9 L1391.9,514.5 L1394.0,502.1 L1396.1,493.3 L1398.2,488.5 L1400.3,487.9 L1402.4,491.8 L1404.5,499.8 L1406.6,511.6 L1408.7,526.7 L1410.8,544.4 L1412.8,564.2 L1414.9,585.2 L1417.0,607.1 L1419.1,629.3 L1421.2,651.4 L1423.3,673.2 L1425.4,694.4 L1427.5,714.9 L1429.6,734.5 L1431.7,753.3 L1433.8,771.1 L1435.9,788.1 L1438.0,804.1 L1440.1,819.3 L1442.2,833.7 L1444.3,847.3 L1446.4,860.1 L1448.5,872.2 L1450.6,883.7 L1452.7,894.6 L1454.8,904.9 L1456.9,914.6 L1459.0,923.8 L1461.1,932.6 L1463.2,940.9 L1465.3,948.8 L1467.3,956.3 L1469.4,963.4 L1471.5,970.2 L1473.6,976.7 L1475.7,982.9 L1477.8,988.8 L1479.9,994.5 L1482.0,999.9 L1484.1,1005.0 L1486.2,1010.0 L1488.3,1014.7 L1490.4,1019.3 L1492.5,1023.7 L1494.6,1027.9 L1496.7,1031.9 L1498.8,1035.8 L1500.9,1039.6 L1503.0,1043.2 L1505.1,1046.7 L1507.2,1050.0 L1509.3,1053.2 L1511.4,1056.4 L1513.5,1059.4 L1515.6,1062.3 L1517.7,1065.2 L1519.8,1067.9 L1521.8,1070.5 L1523.9,1073.1 L1526.0,1075.6 L1528.1,1078.0 L1530.2,1080.4 L1532.3,1082.6 L1534.4,1084.8 L1536.5,1087.0 L1538.6,1089.1 L1540.7,1091.1 L1542.8,1093.1 L1544.9,1095.0 L1547.0,1096.9 L1549.1,1098.7 L1551.2,1100.5 L1553.3,1102.2 L1555.4,1103.9 L1557.5,1105.6 L1559.6,1107.2 L1561.7,1108.8 L1563.8,1110.3 L1565.9,1111.8 L1568.0,1113.3 L1570.1,1114.7 L1572.2,1116.1 L1574.3,1117.5 L1576.3,1118.8 L1578.4,1120.1 L1580.5,1121.4 L1582.6,1122.7 L1584.7,1123.9 L1586.8,1125.1 L1588.9,1126.3 L1591.0,1127.4 L1593.1,1128.6 L1595.2,1129.7 L1597.3,1130.8 L1599.4,1131.8 L1601.5,1132.9 L1603.6,1133.9 L1605.7,1134.9 L1607.8,1135.9 L1609.9,1136.8 L1612.0,1137.8 L1614.1,1138.7 L1616.2,1139.6 L1618.3,1140.5 L1620.4,1141.4 L1622.5,1142.2 L1624.6,1143.1 L1626.7,1143.9 L1628.8,1144.7 L1630.8,1145.5 L1632.9,1146.3 L1635.0,1147.1 L1637.1,1147.8 L1639.2,1148.6 L1641.3,1149.3 L1643.4,1150.0 L1645.5,1150.7 L1647.6,1151.4 L1649.7,1152.1 L1651.8,1152.7 L1653.9,1153.4 L1656.0,1154.0 L1658.1,1154.7 L1660.2,1155.3 L1662.3,1155.9 L1664.4,1156.5 L1666.5,1157.1 L1668.6,1157.7 L1670.7,1158.2 L1672.8,1158.8 L1674.9,1159.4 L1677.0,1159.9 L1679.1,1160.4 L1681.2,1161.0 L1683.3,1161.5 L1685.3,1162.0 L1687.4,1162.5 L1689.5,1163.0 L1691.6,1163.5 L1693.7,1164.0 L1695.8,1164.5 L1697.9,1164.9 L1700.0,1165.4 L1702.1,1165.9 L1704.2,1166.3 L1706.3,1166.8 L1708.4,1167.2 L1710.5,1167.6" stroke-dasharray="16.6 18"/>
<path d="M245.3,1219.4 L259.9,1216.0 L269.9,1215.4 L285.8,1213.8 L301.7,1211.0 L315.6,1208.0 L323.6,1205.5 L329.6,1201.5 L339.5,1195.9 L347.5,1191.1 L354.4,1186.0 L365.4,1186.8 L379.3,1183.6 L387.3,1181.2 L403.2,1181.2 L419.1,1181.2 L428.0,1184.6 L437.9,1187.0 L453.8,1187.2 L469.8,1186.8 L479.7,1184.0 L489.7,1181.2 L495.6,1179.0 L499.6,1181.2 L504.6,1184.6 L513.5,1183.6 L523.5,1179.0 L535.4,1176.2 L549.4,1175.6 L563.3,1173.2 L575.2,1173.6 L583.2,1161.7 L591.1,1153.7 L599.1,1151.3 L609.1,1142.8 L615.9,1133.3 L621.9,1117.4 L627.9,1099.5 L633.8,1083.6 L639.8,1072.6 L648.8,1071.6 L657.7,1080.6 L665.7,1088.6 L675.6,1085.6 L682.6,1077.6 L695.5,1077.6 L709.5,1077.6 L719.4,1082.6 L735.3,1085.6 L749.3,1089.6 L765.2,1097.5 L780.0,1103.6 L795.9,1109.5 L809.9,1113.6 L825.8,1116.6 L841.7,1119.0 L859.6,1118.6 L871.5,1113.6 L887.5,1103.7 L903.4,1097.7 L923.3,1094.1 L941.2,1092.7 L955.1,1087.8 L971.0,1082.2 L980.0,1081.2 L999.8,1072.6 L1013.7,1068.1 L1023.7,1066.3 L1029.7,1068.7 L1039.6,1072.6 L1053.5,1069.3 L1068.5,1069.7 L1079.4,1058.7 L1093.3,1046.2 L1107.3,1036.8 L1117.2,1036.2 L1129.2,1042.8 L1141.1,1048.8 L1151.5,1059.5 L1163.9,1074.1 L1175.8,1080.1 L1193.7,1080.1 L1205.7,1074.1 L1217.6,1064.2 L1229.3,1046.7 L1230.6,1045.1 L1231.8,1043.5 L1233.1,1042.0 L1234.3,1040.4 L1235.5,1038.8 L1236.6,1037.2 L1237.7,1035.5 L1238.9,1033.9 L1240.0,1032.2 L1241.0,1030.5 L1242.1,1028.8 L1243.2,1027.1 L1244.2,1025.4 L1245.2,1023.7 L1246.2,1022.0 L1247.1,1020.2 L1248.1,1018.5 L1249.0,1016.7 L1250.0,1015.0 L1250.9,1013.2 L1251.8,1011.4 L1252.7,1009.6 L1253.6,1007.8 L1254.5,1006.0 L1255.4,1004.2 L1256.2,1002.4 L1257.1,1000.6 L1258.0,998.8 L1258.9,997.0 L1259.7,995.2 L1260.6,993.4 L1261.5,991.6 L1262.3,989.8 L1263.2,988.0 L1264.0,986.2 L1264.9,984.4 L1265.7,982.6 L1266.6,980.8 L1267.4,979.0 L1268.2,977.1 L1269.1,975.3 L1269.9,973.5 L1270.7,971.7 L1271.5,969.8 L1272.3,968.0 L1273.1,966.2 L1273.8,964.3 L1274.6,962.5 L1275.3,960.6 L1276.0,958.7 L1276.8,956.9 L1277.5,955.0 L1278.2,953.2 L1279.0,951.3 L1279.7,949.4 L1280.4,947.6 L1281.2,945.7 L1281.9,943.9 L1282.7,942.0 L1283.5,940.2 L1284.2,938.4 L1285.0,936.5 L1285.8,934.7 L1286.6,932.9 L1287.4,931.0 L1288.2,929.2 L1289.0,927.4 L1289.8,925.5 L1290.5,923.7 L1291.3,921.9 L1292.0,920.0 L1292.8,918.1 L1293.5,916.3 L1294.2,914.4 L1294.9,912.6 L1295.6,910.7 L1296.3,908.8 L1297.0,906.9 L1297.7,905.0 L1298.4,903.2 L1299.0,901.3 L1299.7,899.4 L1300.4,897.5 L1301.0,895.6 L1301.7,893.7 L1302.4,891.9 L1303.0,890.0 L1303.7,888.1 L1304.4,886.2 L1305.1,884.3 L1305.7,882.4 L1306.4,880.6 L1307.1,878.7 L1307.7,876.8 L1308.4,874.9 L1309.0,873.0 L1309.6,871.1 L1310.2,869.2 L1310.9,867.3 L1311.4,865.4 L1312.0,863.5 L1312.6,861.6 L1313.1,859.6 L1313.7,857.7 L1314.2,855.8 L1314.7,853.9 L1315.2,851.9 L1315.8,850.0 L1316.2,848.1 L1316.7,846.1 L1317.2,844.2 L1317.7,842.2 L1318.2,840.3 L1318.7,838.4 L1319.1,836.4 L1319.6,834.5 L1320.1,832.5 L1320.5,830.6 L1321.0,828.6 L1321.4,826.7 L1321.9,824.7 L1322.3,822.8 L1322.8,820.8 L1323.2,818.9 L1323.7,816.9 L1324.1,815.0 L1324.6,813.0 L1325.0,811.1 L1325.4,809.1 L1325.8,807.2 L1326.2,805.2 L1326.7,803.3 L1327.1,801.3 L1327.5,799.3 L1327.9,797.4 L1328.3,795.4 L1328.7,793.5 L1329.1,791.5 L1329.5,789.6 L1329.9,787.6 L1330.3,785.6 L1330.7,783.7 L1331.1,781.7 L1331.5,779.8 L1331.9,777.8 L1332.3,775.8 L1332.6,773.9 L1333.0,771.9 L1333.4,769.9 L1333.8,768.0 L1334.1,766.0 L1334.5,764.0 L1334.9,762.1 L1335.3,760.1 L1335.6,758.2 L1336.0,756.2 L1336.4,754.2 L1336.8,752.3 L1337.2,750.3 L1337.6,748.3 L1338.0,746.4 L1338.4,744.4 L1338.8,742.5 L1339.2,740.5 L1339.7,738.6 L1340.1,736.6 L1340.5,734.7 L1340.9,732.7 L1341.3,730.7 L1341.8,728.8 L1342.2,726.8 L1342.6,724.9 L1343.0,722.9 L1343.4,721.0 L1343.7,719.0 L1344.1,717.0 L1344.5,715.1 L1344.8,713.1 L1345.1,711.1 L1345.5,709.2 L1345.8,707.2 L1346.1,705.2 L1346.4,703.2 L1346.6,701.3 L1346.9,699.3 L1347.2,697.3 L1347.5,695.3 L1347.7,693.3 L1348.0,691.3 L1348.3,689.4 L1348.6,687.4 L1348.8,685.4 L1349.1,683.4 L1349.4,681.4 L1349.7,679.5 L1350.0,677.5 L1350.3,675.5 L1350.6,673.5 L1350.9,671.6 L1351.2,669.6 L1351.5,667.6 L1351.8,665.6 L1352.2,663.7 L1352.5,661.7 L1352.8,659.7 L1353.1,657.7 L1353.5,655.8 L1353.8,653.8 L1354.1,651.8 L1354.4,649.8 L1354.7,647.9 L1355.0,645.9 L1355.3,643.9 L1355.6,641.9 L1355.9,639.9 L1356.2,638.0 L1356.5,636.0 L1356.8,634.0 L1357.0,632.0 L1357.3,630.0 L1357.6,628.1 L1357.8,626.1 L1358.1,624.1 L1358.4,622.1 L1358.6,620.1 L1358.9,618.2 L1359.2,616.2 L1359.4,614.2 L1359.7,612.2 L1360.0,610.2 L1360.3,608.3 L1360.6,606.3 L1360.8,604.3 L1361.1,602.3 L1361.4,600.3 L1361.7,598.4 L1362.1,596.4 L1362.4,594.4 L1362.7,592.4 L1363.0,590.5 L1363.3,588.5 L1363.7,586.5 L1364.0,584.5 L1364.3,582.6 L1364.7,580.6 L1365.0,578.6 L1365.3,576.7 L1365.7,574.7 L1366.0,572.7 L1366.4,570.7 L1366.7,568.8 L1367.1,566.8 L1367.4,564.8 L1367.8,562.9 L1368.2,560.9 L1368.5,558.9 L1368.9,556.9 L1369.2,555.0 L1369.6,553.0 L1370.0,551.0 L1370.4,549.1 L1370.8,547.1 L1371.1,545.1 L1371.5,543.1 L1371.9,541.2 L1372.3,539.2 L1372.8,537.2 L1373.2,535.3 L1373.6,533.3 L1374.0,531.4 L1374.5,529.5 L1374.9,527.6 L1375.4,525.7 L1375.9,523.8 L1376.5,522.0 L1377.2,520.2 L1378.0,518.2 L1379.1,516.2 L1380.5,514.3 L1381.9,513.0 L1383.3,512.6 L1384.7,513.2 L1386.1,514.7 L1387.4,516.6 L1388.5,518.6 L1389.3,520.5 L1389.9,522.4 L1390.5,524.2 L1391.0,526.1 L1391.5,528.0 L1392.0,529.9 L1392.4,531.9 L1392.8,533.8 L1393.3,535.8 L1393.7,537.7 L1394.1,539.7 L1394.6,541.6 L1395.0,543.6 L1395.4,545.5 L1395.8,547.5 L1396.2,549.4 L1396.6,551.4 L1396.9,553.4 L1397.3,555.3 L1397.7,557.3 L1398.0,559.3 L1398.4,561.3 L1398.7,563.2 L1399.1,565.2 L1399.4,567.2 L1399.8,569.1 L1400.1,571.1 L1400.5,573.1 L1400.8,575.1 L1401.1,577.0 L1401.5,579.0 L1401.8,581.0 L1402.1,582.9 L1402.4,584.9 L1402.8,586.9 L1403.1,588.9 L1403.4,590.8 L1403.7,592.8 L1404.0,594.8 L1404.4,596.8 L1404.7,598.7 L1405.0,600.7 L1405.3,602.7 L1405.7,604.7 L1406.0,606.6 L1406.3,608.6 L1406.7,610.6 L1407.0,612.5 L1407.3,614.5 L1407.7,616.5 L1408.0,618.5 L1408.3,620.4 L1408.7,622.4 L1409.0,624.4 L1409.3,626.3 L1409.7,628.3 L1410.0,630.3 L1410.4,632.3 L1410.7,634.2 L1411.1,636.2 L1411.4,638.2 L1411.8,640.1 L1412.1,642.1 L1412.5,644.1 L1412.9,646.0 L1413.2,648.0 L1413.6,650.0 L1414.0,651.9 L1414.3,653.9 L1414.7,655.9 L1415.1,657.8 L1415.4,659.8 L1415.8,661.8 L1416.2,663.7 L1416.5,665.7 L1416.9,667.7 L1417.3,669.6 L1417.6,671.6 L1417.9,673.6 L1418.3,675.5 L1418.6,677.5 L1419.0,679.5 L1419.3,681.5 L1419.6,683.4 L1419.9,685.4 L1420.2,687.4 L1420.5,689.4 L1420.8,691.3 L1421.2,693.3 L1421.5,695.3 L1421.8,697.3 L1422.1,699.2 L1422.4,701.2 L1422.7,703.2 L1423.0,705.2 L1423.3,707.1 L1423.6,709.1 L1424.0,711.1 L1424.3,713.1 L1424.6,715.0 L1425.0,717.0 L1425.3,719.0 L1425.7,720.9 L1426.1,722.9 L1426.4,724.9 L1426.8,726.8 L1427.2,728.8 L1427.6,730.8 L1427.9,732.7 L1428.3,734.7 L1428.7,736.6 L1429.1,738.6 L1429.5,740.6 L1429.9,742.5 L1430.4,744.5 L1430.8,746.4 L1431.2,748.4 L1431.6,750.3 L1432.0,752.3 L1432.4,754.3 L1432.8,756.2 L1433.2,758.2 L1433.6,760.1 L1434.1,762.1 L1434.5,764.0 L1434.9,766.0 L1435.3,768.0 L1435.7,769.9 L1436.1,771.9 L1436.5,773.8 L1436.9,775.8 L1437.3,777.7 L1437.8,779.7 L1438.2,781.7 L1438.6,783.6 L1439.0,785.6 L1439.5,787.5 L1439.9,789.5 L1440.3,791.4 L1440.8,793.4 L1441.2,795.3 L1441.7,797.3 L1442.2,799.2 L1442.6,801.2 L1443.1,803.1 L1443.6,805.0 L1444.0,807.0 L1444.5,808.9 L1445.0,810.9 L1445.5,812.8 L1446.0,814.7 L1446.5,816.7 L1447.0,818.6 L1447.5,820.6 L1448.0,822.5 L1448.5,824.4 L1449.0,826.4 L1449.5,828.3 L1450.0,830.2 L1450.6,832.1 L1451.1,834.1 L1451.6,836.0 L1452.2,837.9 L1452.7,839.8 L1453.3,841.8 L1453.8,843.7 L1454.4,845.6 L1455.0,847.5 L1455.5,849.4 L1456.1,851.4 L1456.7,853.3 L1457.3,855.2 L1457.9,857.1 L1458.5,859.0 L1459.1,860.9 L1459.7,862.8 L1460.3,864.7 L1460.9,866.6 L1461.6,868.5 L1462.2,870.4 L1462.8,872.3 L1463.5,874.2 L1464.1,876.1 L1464.8,878.0 L1465.4,879.9 L1466.1,881.8 L1466.8,883.6 L1467.4,885.5 L1468.1,887.4 L1468.8,889.3 L1469.5,891.2 L1470.1,893.1 L1470.8,894.9 L1471.5,896.8 L1472.2,898.7 L1472.8,900.6 L1473.5,902.5 L1474.2,904.3 L1474.9,906.2 L1475.6,908.1 L1476.3,910.0 L1476.9,911.9 L1477.6,913.7 L1478.3,915.6 L1479.0,917.5 L1479.7,919.4 L1480.4,921.3 L1481.1,923.1 L1481.7,925.0 L1482.4,926.9 L1483.2,928.8 L1483.9,930.6 L1484.6,932.5 L1485.3,934.3 L1486.1,936.2 L1486.8,938.0 L1487.6,939.9 L1488.4,941.7 L1489.2,943.5 L1490.0,945.4 L1490.9,947.2 L1491.7,949.0 L1492.6,950.8 L1493.4,952.6 L1494.3,954.4 L1495.2,956.1 L1496.2,957.9 L1497.1,959.7 L1498.0,961.5 L1499.0,963.2 L1499.9,965.0 L1500.9,966.7 L1501.9,968.5 L1502.9,970.2 L1503.9,971.9 L1504.9,973.7 L1505.9,975.4 L1506.9,977.1 L1508.0,978.8 L1509.0,980.5 L1510.1,982.2 L1511.2,983.9 L1512.2,985.6 L1513.3,987.3 L1514.4,988.9 L1515.5,990.6 L1516.6,992.3 L1517.7,993.9 L1518.8,995.6 L1520.0,997.2 L1521.1,998.9 L1522.3,1000.5 L1523.4,1002.2 L1524.6,1003.8 L1525.7,1005.4 L1526.9,1007.0 L1528.1,1008.6 L1529.3,1010.2 L1530.5,1011.8 L1531.7,1013.4 L1532.9,1015.0 L1534.1,1016.6 L1535.3,1018.2 L1536.6,1019.8 L1537.8,1021.3 L1539.1,1022.9 L1540.3,1024.5 L1541.6,1026.0 L1542.9,1027.6 L1544.1,1029.1 L1545.4,1030.6 L1546.7,1032.1 L1548.1,1033.6 L1549.4,1035.1 L1550.7,1036.6 L1552.1,1038.1 L1553.4,1039.6 L1554.8,1041.0 L1556.1,1042.5 L1557.5,1043.9 L1558.9,1045.3 L1560.3,1046.8 L1561.8,1048.2 L1563.2,1049.6 L1564.6,1050.9 L1566.1,1052.3 L1567.6,1053.7 L1569.0,1055.0 L1570.5,1056.3 L1572.0,1057.6 L1573.6,1058.9 L1575.1,1060.2 L1576.6,1061.5 L1578.2,1062.8 L1579.7,1064.0 L1581.3,1065.3 L1582.9,1066.5 L1584.4,1067.7 L1586.0,1068.9 L1587.6,1070.1 L1589.2,1071.3 L1590.9,1072.5 L1592.5,1073.7 L1594.1,1074.8 L1595.7,1076.0 L1597.4,1077.1 L1599.0,1078.3 L1600.7,1079.4 L1602.3,1080.5 L1604.0,1081.6 L1605.7,1082.7 L1607.4,1083.8 L1609.0,1084.9 L1610.7,1085.9 L1612.4,1087.0 L1614.1,1088.0 L1615.8,1089.0 L1617.6,1090.1 L1619.3,1091.1 L1621.0,1092.1 L1622.8,1093.1 L1624.5,1094.1 L1626.2,1095.0 L1628.0,1096.0 L1629.8,1096.9 L1631.5,1097.9 L1633.3,1098.8 L1635.0,1099.8 L1636.8,1100.7 L1638.6,1101.6 L1640.4,1102.5 L1642.2,1103.4 L1643.9,1104.3 L1645.7,1105.2 L1647.5,1106.1 L1649.3,1107.0 L1651.1,1107.8 L1653.0,1108.7 L1654.8,1109.5 L1656.6,1110.3 L1658.4,1111.1 L1660.3,1111.9 L1662.1,1112.7 L1664.0,1113.4 L1665.8,1114.2 L1667.7,1114.9 L1669.5,1115.6 L1671.4,1116.3 L1673.3,1117.0 L1675.2,1117.7 L1677.0,1118.3 L1678.9,1118.9 L1680.8,1119.5 L1682.7,1120.1 L1684.5,1120.6 L1686.4,1121.1 L1688.2,1121.6 L1690.1,1122.1 L1691.8,1122.5 L1693.6,1122.8 L1695.2,1123.2 L1696.8,1123.5 L1698.4,1123.8 L1699.8,1124.0 L1701.1,1124.2 L1702.4,1124.4 L1703.5,1124.5 L1710.8,1125.1"/>
</g>
<g font-family='"Liberation Serif", "DejaVu Serif", serif' font-weight="bold" font-size="54.5" fill="#262626" stroke="#fff" stroke-width="0.7" stroke-linejoin="round">
<g text-anchor="end">
<text x="224.6" y="1239.8">0</text>
<text x="224.6" y="1124.5">0.005</text>
<text x="224.6" y="1009.2">0.01</text>
<text x="224.6" y="893.9">0.015</text>
<text x="224.6" y="778.6">0.02</text>
<text x="224.6" y="663.3">0.025</text>
<text x="224.6" y="548.0">0.03</text>
<text x="224.6" y="432.7">0.035</text>
<text x="224.6" y="317.4">0.04</text>
<text x="224.6" y="202.1">0.045</text>
<text x="224.6" y="86.8">0.05</text>
</g><g text-anchor="middle">
<text x="269.6" y="1292.0">25</text>
<text x="401.7" y="1292.0">50</text>
<text x="532.2" y="1292.0">75</text>
<text x="663.5" y="1292.0">100</text>
<text x="794.6" y="1292.0">125</text>
<text x="926.1" y="1292.0">150</text>
<text x="1055.6" y="1292.0">175</text>
<text x="1186.3" y="1292.0">200</text>
<text x="1317.3" y="1292.0">225</text>
<text x="1448.5" y="1292.0">250</text>
<text x="1578.9" y="1292.0">275</text>
<text x="1709.3" y="1292.0">300</text>
</g>
<g font-size="53.5">
<text x="978.6" y="1355" text-anchor="middle" textLength="345.5" lengthAdjust="spacing">Frequency(Hz)</text>
<text transform="translate(76.9,644.3) rotate(-90)" text-anchor="middle" textLength="421" lengthAdjust="spacing">Amplitude(m/s<tspan font-size="44" dy="-26">2</tspan><tspan dy="26">N)</tspan></text>
</g>
<g text-anchor="start" fill="#000" font-size="53.5">
<text x="1379" y="167.3" textLength="167.5" lengthAdjust="spacing">Theory</text>
<text x="1379" y="232.8" textLength="271.5" lengthAdjust="spacing">Experiment</text>
</g>
</g>
<g fill="none" stroke="#000">
<path stroke-width="4.9" d="M1267,148.3 h16.9 M1302.2,148.3 h17 M1336.5,148.3 h18"/>
<path stroke-width="3.9" d="M1267,214.6 h101.2"/>
</g>
<g font-family='"Liberation Serif", "DejaVu Serif", serif' fill="#000" font-size="100"><text transform="translate(899.11,1465.02) scale(0.7588,0.8512)">(</text><text transform="translate(926.65,1465.37) scale(0.7948,0.8625)" font-weight="bold">c</text><text transform="translate(962.67,1465.02) scale(0.7743,0.8512)">)</text></g>
</g>
</g>
</svg>
</body>
</html>
